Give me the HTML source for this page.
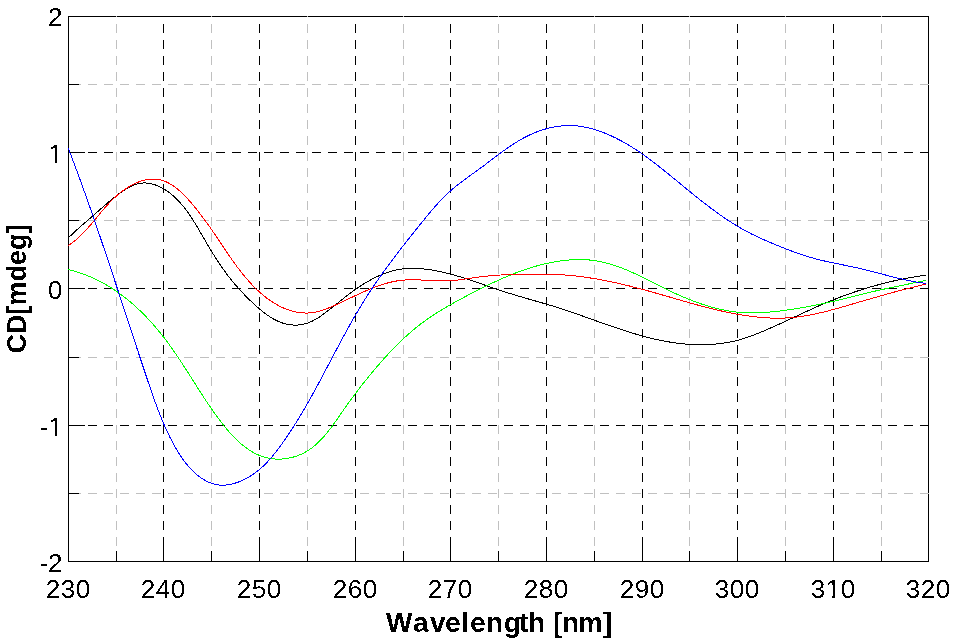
<!DOCTYPE html>
<html><head><meta charset="utf-8"><style>
html,body{margin:0;padding:0;background:#fff;width:954px;height:643px;overflow:hidden}
.lab{position:absolute;left:0;top:0;width:954px;height:643px;filter:url(#crisp)}
body{position:relative;font-family:"Liberation Sans",sans-serif;color:#000}
.xt{position:absolute;top:574px;width:120px;text-align:center;font-size:26px;line-height:30px;letter-spacing:0.55px;text-indent:0.55px}
.yt{position:absolute;left:0;width:63px;text-align:right;font-size:26px;line-height:30px;letter-spacing:0.55px}
.xl{position:absolute;left:0;top:606px;width:954px;height:34px;font-weight:bold;font-size:28px;line-height:34px;white-space:pre}
.xl span{position:absolute;top:0}
.yl{position:absolute;left:-183px;top:272px;width:400px;text-align:center;font-weight:bold;font-size:27px;line-height:34px;transform:rotate(-90deg)}
</style></head><body>
<svg width="954" height="643" viewBox="0 0 954 643" shape-rendering="crispEdges" style="position:absolute;left:0;top:0"><rect x="68.5" y="16.5" width="860" height="545" fill="none" stroke="#000" stroke-width="1"/><g fill="#c0c0c0"><rect x="72" y="84" width="9" height="1"/><rect x="88" y="84" width="9" height="1"/><rect x="104" y="84" width="9" height="1"/><rect x="120" y="84" width="9" height="1"/><rect x="136" y="84" width="9" height="1"/><rect x="152" y="84" width="9" height="1"/><rect x="168" y="84" width="9" height="1"/><rect x="184" y="84" width="9" height="1"/><rect x="200" y="84" width="9" height="1"/><rect x="216" y="84" width="9" height="1"/><rect x="232" y="84" width="9" height="1"/><rect x="248" y="84" width="9" height="1"/><rect x="264" y="84" width="9" height="1"/><rect x="280" y="84" width="9" height="1"/><rect x="296" y="84" width="9" height="1"/><rect x="312" y="84" width="9" height="1"/><rect x="328" y="84" width="9" height="1"/><rect x="344" y="84" width="9" height="1"/><rect x="360" y="84" width="9" height="1"/><rect x="376" y="84" width="9" height="1"/><rect x="392" y="84" width="9" height="1"/><rect x="408" y="84" width="9" height="1"/><rect x="424" y="84" width="9" height="1"/><rect x="440" y="84" width="9" height="1"/><rect x="456" y="84" width="9" height="1"/><rect x="472" y="84" width="9" height="1"/><rect x="488" y="84" width="9" height="1"/><rect x="504" y="84" width="9" height="1"/><rect x="520" y="84" width="9" height="1"/><rect x="536" y="84" width="9" height="1"/><rect x="552" y="84" width="9" height="1"/><rect x="568" y="84" width="9" height="1"/><rect x="584" y="84" width="9" height="1"/><rect x="600" y="84" width="9" height="1"/><rect x="616" y="84" width="9" height="1"/><rect x="632" y="84" width="9" height="1"/><rect x="648" y="84" width="9" height="1"/><rect x="664" y="84" width="9" height="1"/><rect x="680" y="84" width="9" height="1"/><rect x="696" y="84" width="9" height="1"/><rect x="712" y="84" width="9" height="1"/><rect x="728" y="84" width="9" height="1"/><rect x="744" y="84" width="9" height="1"/><rect x="760" y="84" width="9" height="1"/><rect x="776" y="84" width="9" height="1"/><rect x="792" y="84" width="9" height="1"/><rect x="808" y="84" width="9" height="1"/><rect x="824" y="84" width="9" height="1"/><rect x="840" y="84" width="9" height="1"/><rect x="856" y="84" width="9" height="1"/><rect x="872" y="84" width="9" height="1"/><rect x="888" y="84" width="9" height="1"/><rect x="904" y="84" width="9" height="1"/><rect x="920" y="84" width="9" height="1"/></g><g fill="#c0c0c0"><rect x="72" y="220" width="9" height="1"/><rect x="88" y="220" width="9" height="1"/><rect x="104" y="220" width="9" height="1"/><rect x="120" y="220" width="9" height="1"/><rect x="136" y="220" width="9" height="1"/><rect x="152" y="220" width="9" height="1"/><rect x="168" y="220" width="9" height="1"/><rect x="184" y="220" width="9" height="1"/><rect x="200" y="220" width="9" height="1"/><rect x="216" y="220" width="9" height="1"/><rect x="232" y="220" width="9" height="1"/><rect x="248" y="220" width="9" height="1"/><rect x="264" y="220" width="9" height="1"/><rect x="280" y="220" width="9" height="1"/><rect x="296" y="220" width="9" height="1"/><rect x="312" y="220" width="9" height="1"/><rect x="328" y="220" width="9" height="1"/><rect x="344" y="220" width="9" height="1"/><rect x="360" y="220" width="9" height="1"/><rect x="376" y="220" width="9" height="1"/><rect x="392" y="220" width="9" height="1"/><rect x="408" y="220" width="9" height="1"/><rect x="424" y="220" width="9" height="1"/><rect x="440" y="220" width="9" height="1"/><rect x="456" y="220" width="9" height="1"/><rect x="472" y="220" width="9" height="1"/><rect x="488" y="220" width="9" height="1"/><rect x="504" y="220" width="9" height="1"/><rect x="520" y="220" width="9" height="1"/><rect x="536" y="220" width="9" height="1"/><rect x="552" y="220" width="9" height="1"/><rect x="568" y="220" width="9" height="1"/><rect x="584" y="220" width="9" height="1"/><rect x="600" y="220" width="9" height="1"/><rect x="616" y="220" width="9" height="1"/><rect x="632" y="220" width="9" height="1"/><rect x="648" y="220" width="9" height="1"/><rect x="664" y="220" width="9" height="1"/><rect x="680" y="220" width="9" height="1"/><rect x="696" y="220" width="9" height="1"/><rect x="712" y="220" width="9" height="1"/><rect x="728" y="220" width="9" height="1"/><rect x="744" y="220" width="9" height="1"/><rect x="760" y="220" width="9" height="1"/><rect x="776" y="220" width="9" height="1"/><rect x="792" y="220" width="9" height="1"/><rect x="808" y="220" width="9" height="1"/><rect x="824" y="220" width="9" height="1"/><rect x="840" y="220" width="9" height="1"/><rect x="856" y="220" width="9" height="1"/><rect x="872" y="220" width="9" height="1"/><rect x="888" y="220" width="9" height="1"/><rect x="904" y="220" width="9" height="1"/><rect x="920" y="220" width="9" height="1"/></g><g fill="#c0c0c0"><rect x="72" y="357" width="9" height="1"/><rect x="88" y="357" width="9" height="1"/><rect x="104" y="357" width="9" height="1"/><rect x="120" y="357" width="9" height="1"/><rect x="136" y="357" width="9" height="1"/><rect x="152" y="357" width="9" height="1"/><rect x="168" y="357" width="9" height="1"/><rect x="184" y="357" width="9" height="1"/><rect x="200" y="357" width="9" height="1"/><rect x="216" y="357" width="9" height="1"/><rect x="232" y="357" width="9" height="1"/><rect x="248" y="357" width="9" height="1"/><rect x="264" y="357" width="9" height="1"/><rect x="280" y="357" width="9" height="1"/><rect x="296" y="357" width="9" height="1"/><rect x="312" y="357" width="9" height="1"/><rect x="328" y="357" width="9" height="1"/><rect x="344" y="357" width="9" height="1"/><rect x="360" y="357" width="9" height="1"/><rect x="376" y="357" width="9" height="1"/><rect x="392" y="357" width="9" height="1"/><rect x="408" y="357" width="9" height="1"/><rect x="424" y="357" width="9" height="1"/><rect x="440" y="357" width="9" height="1"/><rect x="456" y="357" width="9" height="1"/><rect x="472" y="357" width="9" height="1"/><rect x="488" y="357" width="9" height="1"/><rect x="504" y="357" width="9" height="1"/><rect x="520" y="357" width="9" height="1"/><rect x="536" y="357" width="9" height="1"/><rect x="552" y="357" width="9" height="1"/><rect x="568" y="357" width="9" height="1"/><rect x="584" y="357" width="9" height="1"/><rect x="600" y="357" width="9" height="1"/><rect x="616" y="357" width="9" height="1"/><rect x="632" y="357" width="9" height="1"/><rect x="648" y="357" width="9" height="1"/><rect x="664" y="357" width="9" height="1"/><rect x="680" y="357" width="9" height="1"/><rect x="696" y="357" width="9" height="1"/><rect x="712" y="357" width="9" height="1"/><rect x="728" y="357" width="9" height="1"/><rect x="744" y="357" width="9" height="1"/><rect x="760" y="357" width="9" height="1"/><rect x="776" y="357" width="9" height="1"/><rect x="792" y="357" width="9" height="1"/><rect x="808" y="357" width="9" height="1"/><rect x="824" y="357" width="9" height="1"/><rect x="840" y="357" width="9" height="1"/><rect x="856" y="357" width="9" height="1"/><rect x="872" y="357" width="9" height="1"/><rect x="888" y="357" width="9" height="1"/><rect x="904" y="357" width="9" height="1"/><rect x="920" y="357" width="9" height="1"/></g><g fill="#c0c0c0"><rect x="72" y="493" width="9" height="1"/><rect x="88" y="493" width="9" height="1"/><rect x="104" y="493" width="9" height="1"/><rect x="120" y="493" width="9" height="1"/><rect x="136" y="493" width="9" height="1"/><rect x="152" y="493" width="9" height="1"/><rect x="168" y="493" width="9" height="1"/><rect x="184" y="493" width="9" height="1"/><rect x="200" y="493" width="9" height="1"/><rect x="216" y="493" width="9" height="1"/><rect x="232" y="493" width="9" height="1"/><rect x="248" y="493" width="9" height="1"/><rect x="264" y="493" width="9" height="1"/><rect x="280" y="493" width="9" height="1"/><rect x="296" y="493" width="9" height="1"/><rect x="312" y="493" width="9" height="1"/><rect x="328" y="493" width="9" height="1"/><rect x="344" y="493" width="9" height="1"/><rect x="360" y="493" width="9" height="1"/><rect x="376" y="493" width="9" height="1"/><rect x="392" y="493" width="9" height="1"/><rect x="408" y="493" width="9" height="1"/><rect x="424" y="493" width="9" height="1"/><rect x="440" y="493" width="9" height="1"/><rect x="456" y="493" width="9" height="1"/><rect x="472" y="493" width="9" height="1"/><rect x="488" y="493" width="9" height="1"/><rect x="504" y="493" width="9" height="1"/><rect x="520" y="493" width="9" height="1"/><rect x="536" y="493" width="9" height="1"/><rect x="552" y="493" width="9" height="1"/><rect x="568" y="493" width="9" height="1"/><rect x="584" y="493" width="9" height="1"/><rect x="600" y="493" width="9" height="1"/><rect x="616" y="493" width="9" height="1"/><rect x="632" y="493" width="9" height="1"/><rect x="648" y="493" width="9" height="1"/><rect x="664" y="493" width="9" height="1"/><rect x="680" y="493" width="9" height="1"/><rect x="696" y="493" width="9" height="1"/><rect x="712" y="493" width="9" height="1"/><rect x="728" y="493" width="9" height="1"/><rect x="744" y="493" width="9" height="1"/><rect x="760" y="493" width="9" height="1"/><rect x="776" y="493" width="9" height="1"/><rect x="792" y="493" width="9" height="1"/><rect x="808" y="493" width="9" height="1"/><rect x="824" y="493" width="9" height="1"/><rect x="840" y="493" width="9" height="1"/><rect x="856" y="493" width="9" height="1"/><rect x="872" y="493" width="9" height="1"/><rect x="888" y="493" width="9" height="1"/><rect x="904" y="493" width="9" height="1"/><rect x="920" y="493" width="9" height="1"/></g><g fill="#000"><rect x="72" y="152" width="9" height="1"/><rect x="88" y="152" width="9" height="1"/><rect x="104" y="152" width="9" height="1"/><rect x="120" y="152" width="9" height="1"/><rect x="136" y="152" width="9" height="1"/><rect x="152" y="152" width="9" height="1"/><rect x="168" y="152" width="9" height="1"/><rect x="184" y="152" width="9" height="1"/><rect x="200" y="152" width="9" height="1"/><rect x="216" y="152" width="9" height="1"/><rect x="232" y="152" width="9" height="1"/><rect x="248" y="152" width="9" height="1"/><rect x="264" y="152" width="9" height="1"/><rect x="280" y="152" width="9" height="1"/><rect x="296" y="152" width="9" height="1"/><rect x="312" y="152" width="9" height="1"/><rect x="328" y="152" width="9" height="1"/><rect x="344" y="152" width="9" height="1"/><rect x="360" y="152" width="9" height="1"/><rect x="376" y="152" width="9" height="1"/><rect x="392" y="152" width="9" height="1"/><rect x="408" y="152" width="9" height="1"/><rect x="424" y="152" width="9" height="1"/><rect x="440" y="152" width="9" height="1"/><rect x="456" y="152" width="9" height="1"/><rect x="472" y="152" width="9" height="1"/><rect x="488" y="152" width="9" height="1"/><rect x="504" y="152" width="9" height="1"/><rect x="520" y="152" width="9" height="1"/><rect x="536" y="152" width="9" height="1"/><rect x="552" y="152" width="9" height="1"/><rect x="568" y="152" width="9" height="1"/><rect x="584" y="152" width="9" height="1"/><rect x="600" y="152" width="9" height="1"/><rect x="616" y="152" width="9" height="1"/><rect x="632" y="152" width="9" height="1"/><rect x="648" y="152" width="9" height="1"/><rect x="664" y="152" width="9" height="1"/><rect x="680" y="152" width="9" height="1"/><rect x="696" y="152" width="9" height="1"/><rect x="712" y="152" width="9" height="1"/><rect x="728" y="152" width="9" height="1"/><rect x="744" y="152" width="9" height="1"/><rect x="760" y="152" width="9" height="1"/><rect x="776" y="152" width="9" height="1"/><rect x="792" y="152" width="9" height="1"/><rect x="808" y="152" width="9" height="1"/><rect x="824" y="152" width="9" height="1"/><rect x="840" y="152" width="9" height="1"/><rect x="856" y="152" width="9" height="1"/><rect x="872" y="152" width="9" height="1"/><rect x="888" y="152" width="9" height="1"/><rect x="904" y="152" width="9" height="1"/><rect x="920" y="152" width="9" height="1"/></g><g fill="#000"><rect x="72" y="288" width="9" height="1"/><rect x="88" y="288" width="9" height="1"/><rect x="104" y="288" width="9" height="1"/><rect x="120" y="288" width="9" height="1"/><rect x="136" y="288" width="9" height="1"/><rect x="152" y="288" width="9" height="1"/><rect x="168" y="288" width="9" height="1"/><rect x="184" y="288" width="9" height="1"/><rect x="200" y="288" width="9" height="1"/><rect x="216" y="288" width="9" height="1"/><rect x="232" y="288" width="9" height="1"/><rect x="248" y="288" width="9" height="1"/><rect x="264" y="288" width="9" height="1"/><rect x="280" y="288" width="9" height="1"/><rect x="296" y="288" width="9" height="1"/><rect x="312" y="288" width="9" height="1"/><rect x="328" y="288" width="9" height="1"/><rect x="344" y="288" width="9" height="1"/><rect x="360" y="288" width="9" height="1"/><rect x="376" y="288" width="9" height="1"/><rect x="392" y="288" width="9" height="1"/><rect x="408" y="288" width="9" height="1"/><rect x="424" y="288" width="9" height="1"/><rect x="440" y="288" width="9" height="1"/><rect x="456" y="288" width="9" height="1"/><rect x="472" y="288" width="9" height="1"/><rect x="488" y="288" width="9" height="1"/><rect x="504" y="288" width="9" height="1"/><rect x="520" y="288" width="9" height="1"/><rect x="536" y="288" width="9" height="1"/><rect x="552" y="288" width="9" height="1"/><rect x="568" y="288" width="9" height="1"/><rect x="584" y="288" width="9" height="1"/><rect x="600" y="288" width="9" height="1"/><rect x="616" y="288" width="9" height="1"/><rect x="632" y="288" width="9" height="1"/><rect x="648" y="288" width="9" height="1"/><rect x="664" y="288" width="9" height="1"/><rect x="680" y="288" width="9" height="1"/><rect x="696" y="288" width="9" height="1"/><rect x="712" y="288" width="9" height="1"/><rect x="728" y="288" width="9" height="1"/><rect x="744" y="288" width="9" height="1"/><rect x="760" y="288" width="9" height="1"/><rect x="776" y="288" width="9" height="1"/><rect x="792" y="288" width="9" height="1"/><rect x="808" y="288" width="9" height="1"/><rect x="824" y="288" width="9" height="1"/><rect x="840" y="288" width="9" height="1"/><rect x="856" y="288" width="9" height="1"/><rect x="872" y="288" width="9" height="1"/><rect x="888" y="288" width="9" height="1"/><rect x="904" y="288" width="9" height="1"/><rect x="920" y="288" width="9" height="1"/></g><g fill="#000"><rect x="72" y="425" width="9" height="1"/><rect x="88" y="425" width="9" height="1"/><rect x="104" y="425" width="9" height="1"/><rect x="120" y="425" width="9" height="1"/><rect x="136" y="425" width="9" height="1"/><rect x="152" y="425" width="9" height="1"/><rect x="168" y="425" width="9" height="1"/><rect x="184" y="425" width="9" height="1"/><rect x="200" y="425" width="9" height="1"/><rect x="216" y="425" width="9" height="1"/><rect x="232" y="425" width="9" height="1"/><rect x="248" y="425" width="9" height="1"/><rect x="264" y="425" width="9" height="1"/><rect x="280" y="425" width="9" height="1"/><rect x="296" y="425" width="9" height="1"/><rect x="312" y="425" width="9" height="1"/><rect x="328" y="425" width="9" height="1"/><rect x="344" y="425" width="9" height="1"/><rect x="360" y="425" width="9" height="1"/><rect x="376" y="425" width="9" height="1"/><rect x="392" y="425" width="9" height="1"/><rect x="408" y="425" width="9" height="1"/><rect x="424" y="425" width="9" height="1"/><rect x="440" y="425" width="9" height="1"/><rect x="456" y="425" width="9" height="1"/><rect x="472" y="425" width="9" height="1"/><rect x="488" y="425" width="9" height="1"/><rect x="504" y="425" width="9" height="1"/><rect x="520" y="425" width="9" height="1"/><rect x="536" y="425" width="9" height="1"/><rect x="552" y="425" width="9" height="1"/><rect x="568" y="425" width="9" height="1"/><rect x="584" y="425" width="9" height="1"/><rect x="600" y="425" width="9" height="1"/><rect x="616" y="425" width="9" height="1"/><rect x="632" y="425" width="9" height="1"/><rect x="648" y="425" width="9" height="1"/><rect x="664" y="425" width="9" height="1"/><rect x="680" y="425" width="9" height="1"/><rect x="696" y="425" width="9" height="1"/><rect x="712" y="425" width="9" height="1"/><rect x="728" y="425" width="9" height="1"/><rect x="744" y="425" width="9" height="1"/><rect x="760" y="425" width="9" height="1"/><rect x="776" y="425" width="9" height="1"/><rect x="792" y="425" width="9" height="1"/><rect x="808" y="425" width="9" height="1"/><rect x="824" y="425" width="9" height="1"/><rect x="840" y="425" width="9" height="1"/><rect x="856" y="425" width="9" height="1"/><rect x="872" y="425" width="9" height="1"/><rect x="888" y="425" width="9" height="1"/><rect x="904" y="425" width="9" height="1"/><rect x="920" y="425" width="9" height="1"/></g><g fill="#c0c0c0"><rect x="116" y="16" width="1" height="1"/><rect x="116" y="24" width="1" height="9"/><rect x="116" y="40" width="1" height="9"/><rect x="116" y="56" width="1" height="9"/><rect x="116" y="72" width="1" height="9"/><rect x="116" y="88" width="1" height="9"/><rect x="116" y="104" width="1" height="9"/><rect x="116" y="120" width="1" height="9"/><rect x="116" y="136" width="1" height="9"/><rect x="116" y="152" width="1" height="9"/><rect x="116" y="168" width="1" height="9"/><rect x="116" y="184" width="1" height="9"/><rect x="116" y="201" width="1" height="9"/><rect x="116" y="217" width="1" height="9"/><rect x="116" y="233" width="1" height="9"/><rect x="116" y="249" width="1" height="9"/><rect x="116" y="265" width="1" height="9"/><rect x="116" y="281" width="1" height="9"/><rect x="116" y="297" width="1" height="9"/><rect x="116" y="313" width="1" height="9"/><rect x="116" y="329" width="1" height="9"/><rect x="116" y="345" width="1" height="9"/><rect x="116" y="361" width="1" height="9"/><rect x="116" y="377" width="1" height="9"/><rect x="116" y="393" width="1" height="9"/><rect x="116" y="409" width="1" height="9"/><rect x="116" y="425" width="1" height="9"/><rect x="116" y="441" width="1" height="9"/><rect x="116" y="457" width="1" height="9"/><rect x="116" y="473" width="1" height="9"/><rect x="116" y="489" width="1" height="9"/><rect x="116" y="505" width="1" height="9"/><rect x="116" y="521" width="1" height="9"/><rect x="116" y="537" width="1" height="9"/><rect x="116" y="553" width="1" height="8"/></g><g fill="#c0c0c0"><rect x="211" y="16" width="1" height="1"/><rect x="211" y="24" width="1" height="9"/><rect x="211" y="40" width="1" height="9"/><rect x="211" y="56" width="1" height="9"/><rect x="211" y="72" width="1" height="9"/><rect x="211" y="88" width="1" height="9"/><rect x="211" y="104" width="1" height="9"/><rect x="211" y="120" width="1" height="9"/><rect x="211" y="136" width="1" height="9"/><rect x="211" y="152" width="1" height="9"/><rect x="211" y="168" width="1" height="9"/><rect x="211" y="184" width="1" height="9"/><rect x="211" y="201" width="1" height="9"/><rect x="211" y="217" width="1" height="9"/><rect x="211" y="233" width="1" height="9"/><rect x="211" y="249" width="1" height="9"/><rect x="211" y="265" width="1" height="9"/><rect x="211" y="281" width="1" height="9"/><rect x="211" y="297" width="1" height="9"/><rect x="211" y="313" width="1" height="9"/><rect x="211" y="329" width="1" height="9"/><rect x="211" y="345" width="1" height="9"/><rect x="211" y="361" width="1" height="9"/><rect x="211" y="377" width="1" height="9"/><rect x="211" y="393" width="1" height="9"/><rect x="211" y="409" width="1" height="9"/><rect x="211" y="425" width="1" height="9"/><rect x="211" y="441" width="1" height="9"/><rect x="211" y="457" width="1" height="9"/><rect x="211" y="473" width="1" height="9"/><rect x="211" y="489" width="1" height="9"/><rect x="211" y="505" width="1" height="9"/><rect x="211" y="521" width="1" height="9"/><rect x="211" y="537" width="1" height="9"/><rect x="211" y="553" width="1" height="8"/></g><g fill="#c0c0c0"><rect x="307" y="16" width="1" height="1"/><rect x="307" y="24" width="1" height="9"/><rect x="307" y="40" width="1" height="9"/><rect x="307" y="56" width="1" height="9"/><rect x="307" y="72" width="1" height="9"/><rect x="307" y="88" width="1" height="9"/><rect x="307" y="104" width="1" height="9"/><rect x="307" y="120" width="1" height="9"/><rect x="307" y="136" width="1" height="9"/><rect x="307" y="152" width="1" height="9"/><rect x="307" y="168" width="1" height="9"/><rect x="307" y="184" width="1" height="9"/><rect x="307" y="201" width="1" height="9"/><rect x="307" y="217" width="1" height="9"/><rect x="307" y="233" width="1" height="9"/><rect x="307" y="249" width="1" height="9"/><rect x="307" y="265" width="1" height="9"/><rect x="307" y="281" width="1" height="9"/><rect x="307" y="297" width="1" height="9"/><rect x="307" y="313" width="1" height="9"/><rect x="307" y="329" width="1" height="9"/><rect x="307" y="345" width="1" height="9"/><rect x="307" y="361" width="1" height="9"/><rect x="307" y="377" width="1" height="9"/><rect x="307" y="393" width="1" height="9"/><rect x="307" y="409" width="1" height="9"/><rect x="307" y="425" width="1" height="9"/><rect x="307" y="441" width="1" height="9"/><rect x="307" y="457" width="1" height="9"/><rect x="307" y="473" width="1" height="9"/><rect x="307" y="489" width="1" height="9"/><rect x="307" y="505" width="1" height="9"/><rect x="307" y="521" width="1" height="9"/><rect x="307" y="537" width="1" height="9"/><rect x="307" y="553" width="1" height="8"/></g><g fill="#c0c0c0"><rect x="403" y="16" width="1" height="1"/><rect x="403" y="24" width="1" height="9"/><rect x="403" y="40" width="1" height="9"/><rect x="403" y="56" width="1" height="9"/><rect x="403" y="72" width="1" height="9"/><rect x="403" y="88" width="1" height="9"/><rect x="403" y="104" width="1" height="9"/><rect x="403" y="120" width="1" height="9"/><rect x="403" y="136" width="1" height="9"/><rect x="403" y="152" width="1" height="9"/><rect x="403" y="168" width="1" height="9"/><rect x="403" y="184" width="1" height="9"/><rect x="403" y="201" width="1" height="9"/><rect x="403" y="217" width="1" height="9"/><rect x="403" y="233" width="1" height="9"/><rect x="403" y="249" width="1" height="9"/><rect x="403" y="265" width="1" height="9"/><rect x="403" y="281" width="1" height="9"/><rect x="403" y="297" width="1" height="9"/><rect x="403" y="313" width="1" height="9"/><rect x="403" y="329" width="1" height="9"/><rect x="403" y="345" width="1" height="9"/><rect x="403" y="361" width="1" height="9"/><rect x="403" y="377" width="1" height="9"/><rect x="403" y="393" width="1" height="9"/><rect x="403" y="409" width="1" height="9"/><rect x="403" y="425" width="1" height="9"/><rect x="403" y="441" width="1" height="9"/><rect x="403" y="457" width="1" height="9"/><rect x="403" y="473" width="1" height="9"/><rect x="403" y="489" width="1" height="9"/><rect x="403" y="505" width="1" height="9"/><rect x="403" y="521" width="1" height="9"/><rect x="403" y="537" width="1" height="9"/><rect x="403" y="553" width="1" height="8"/></g><g fill="#c0c0c0"><rect x="498" y="16" width="1" height="1"/><rect x="498" y="24" width="1" height="9"/><rect x="498" y="40" width="1" height="9"/><rect x="498" y="56" width="1" height="9"/><rect x="498" y="72" width="1" height="9"/><rect x="498" y="88" width="1" height="9"/><rect x="498" y="104" width="1" height="9"/><rect x="498" y="120" width="1" height="9"/><rect x="498" y="136" width="1" height="9"/><rect x="498" y="152" width="1" height="9"/><rect x="498" y="168" width="1" height="9"/><rect x="498" y="184" width="1" height="9"/><rect x="498" y="201" width="1" height="9"/><rect x="498" y="217" width="1" height="9"/><rect x="498" y="233" width="1" height="9"/><rect x="498" y="249" width="1" height="9"/><rect x="498" y="265" width="1" height="9"/><rect x="498" y="281" width="1" height="9"/><rect x="498" y="297" width="1" height="9"/><rect x="498" y="313" width="1" height="9"/><rect x="498" y="329" width="1" height="9"/><rect x="498" y="345" width="1" height="9"/><rect x="498" y="361" width="1" height="9"/><rect x="498" y="377" width="1" height="9"/><rect x="498" y="393" width="1" height="9"/><rect x="498" y="409" width="1" height="9"/><rect x="498" y="425" width="1" height="9"/><rect x="498" y="441" width="1" height="9"/><rect x="498" y="457" width="1" height="9"/><rect x="498" y="473" width="1" height="9"/><rect x="498" y="489" width="1" height="9"/><rect x="498" y="505" width="1" height="9"/><rect x="498" y="521" width="1" height="9"/><rect x="498" y="537" width="1" height="9"/><rect x="498" y="553" width="1" height="8"/></g><g fill="#c0c0c0"><rect x="594" y="16" width="1" height="1"/><rect x="594" y="24" width="1" height="9"/><rect x="594" y="40" width="1" height="9"/><rect x="594" y="56" width="1" height="9"/><rect x="594" y="72" width="1" height="9"/><rect x="594" y="88" width="1" height="9"/><rect x="594" y="104" width="1" height="9"/><rect x="594" y="120" width="1" height="9"/><rect x="594" y="136" width="1" height="9"/><rect x="594" y="152" width="1" height="9"/><rect x="594" y="168" width="1" height="9"/><rect x="594" y="184" width="1" height="9"/><rect x="594" y="201" width="1" height="9"/><rect x="594" y="217" width="1" height="9"/><rect x="594" y="233" width="1" height="9"/><rect x="594" y="249" width="1" height="9"/><rect x="594" y="265" width="1" height="9"/><rect x="594" y="281" width="1" height="9"/><rect x="594" y="297" width="1" height="9"/><rect x="594" y="313" width="1" height="9"/><rect x="594" y="329" width="1" height="9"/><rect x="594" y="345" width="1" height="9"/><rect x="594" y="361" width="1" height="9"/><rect x="594" y="377" width="1" height="9"/><rect x="594" y="393" width="1" height="9"/><rect x="594" y="409" width="1" height="9"/><rect x="594" y="425" width="1" height="9"/><rect x="594" y="441" width="1" height="9"/><rect x="594" y="457" width="1" height="9"/><rect x="594" y="473" width="1" height="9"/><rect x="594" y="489" width="1" height="9"/><rect x="594" y="505" width="1" height="9"/><rect x="594" y="521" width="1" height="9"/><rect x="594" y="537" width="1" height="9"/><rect x="594" y="553" width="1" height="8"/></g><g fill="#c0c0c0"><rect x="689" y="16" width="1" height="1"/><rect x="689" y="24" width="1" height="9"/><rect x="689" y="40" width="1" height="9"/><rect x="689" y="56" width="1" height="9"/><rect x="689" y="72" width="1" height="9"/><rect x="689" y="88" width="1" height="9"/><rect x="689" y="104" width="1" height="9"/><rect x="689" y="120" width="1" height="9"/><rect x="689" y="136" width="1" height="9"/><rect x="689" y="152" width="1" height="9"/><rect x="689" y="168" width="1" height="9"/><rect x="689" y="184" width="1" height="9"/><rect x="689" y="201" width="1" height="9"/><rect x="689" y="217" width="1" height="9"/><rect x="689" y="233" width="1" height="9"/><rect x="689" y="249" width="1" height="9"/><rect x="689" y="265" width="1" height="9"/><rect x="689" y="281" width="1" height="9"/><rect x="689" y="297" width="1" height="9"/><rect x="689" y="313" width="1" height="9"/><rect x="689" y="329" width="1" height="9"/><rect x="689" y="345" width="1" height="9"/><rect x="689" y="361" width="1" height="9"/><rect x="689" y="377" width="1" height="9"/><rect x="689" y="393" width="1" height="9"/><rect x="689" y="409" width="1" height="9"/><rect x="689" y="425" width="1" height="9"/><rect x="689" y="441" width="1" height="9"/><rect x="689" y="457" width="1" height="9"/><rect x="689" y="473" width="1" height="9"/><rect x="689" y="489" width="1" height="9"/><rect x="689" y="505" width="1" height="9"/><rect x="689" y="521" width="1" height="9"/><rect x="689" y="537" width="1" height="9"/><rect x="689" y="553" width="1" height="8"/></g><g fill="#c0c0c0"><rect x="785" y="16" width="1" height="1"/><rect x="785" y="24" width="1" height="9"/><rect x="785" y="40" width="1" height="9"/><rect x="785" y="56" width="1" height="9"/><rect x="785" y="72" width="1" height="9"/><rect x="785" y="88" width="1" height="9"/><rect x="785" y="104" width="1" height="9"/><rect x="785" y="120" width="1" height="9"/><rect x="785" y="136" width="1" height="9"/><rect x="785" y="152" width="1" height="9"/><rect x="785" y="168" width="1" height="9"/><rect x="785" y="184" width="1" height="9"/><rect x="785" y="201" width="1" height="9"/><rect x="785" y="217" width="1" height="9"/><rect x="785" y="233" width="1" height="9"/><rect x="785" y="249" width="1" height="9"/><rect x="785" y="265" width="1" height="9"/><rect x="785" y="281" width="1" height="9"/><rect x="785" y="297" width="1" height="9"/><rect x="785" y="313" width="1" height="9"/><rect x="785" y="329" width="1" height="9"/><rect x="785" y="345" width="1" height="9"/><rect x="785" y="361" width="1" height="9"/><rect x="785" y="377" width="1" height="9"/><rect x="785" y="393" width="1" height="9"/><rect x="785" y="409" width="1" height="9"/><rect x="785" y="425" width="1" height="9"/><rect x="785" y="441" width="1" height="9"/><rect x="785" y="457" width="1" height="9"/><rect x="785" y="473" width="1" height="9"/><rect x="785" y="489" width="1" height="9"/><rect x="785" y="505" width="1" height="9"/><rect x="785" y="521" width="1" height="9"/><rect x="785" y="537" width="1" height="9"/><rect x="785" y="553" width="1" height="8"/></g><g fill="#c0c0c0"><rect x="881" y="16" width="1" height="1"/><rect x="881" y="24" width="1" height="9"/><rect x="881" y="40" width="1" height="9"/><rect x="881" y="56" width="1" height="9"/><rect x="881" y="72" width="1" height="9"/><rect x="881" y="88" width="1" height="9"/><rect x="881" y="104" width="1" height="9"/><rect x="881" y="120" width="1" height="9"/><rect x="881" y="136" width="1" height="9"/><rect x="881" y="152" width="1" height="9"/><rect x="881" y="168" width="1" height="9"/><rect x="881" y="184" width="1" height="9"/><rect x="881" y="201" width="1" height="9"/><rect x="881" y="217" width="1" height="9"/><rect x="881" y="233" width="1" height="9"/><rect x="881" y="249" width="1" height="9"/><rect x="881" y="265" width="1" height="9"/><rect x="881" y="281" width="1" height="9"/><rect x="881" y="297" width="1" height="9"/><rect x="881" y="313" width="1" height="9"/><rect x="881" y="329" width="1" height="9"/><rect x="881" y="345" width="1" height="9"/><rect x="881" y="361" width="1" height="9"/><rect x="881" y="377" width="1" height="9"/><rect x="881" y="393" width="1" height="9"/><rect x="881" y="409" width="1" height="9"/><rect x="881" y="425" width="1" height="9"/><rect x="881" y="441" width="1" height="9"/><rect x="881" y="457" width="1" height="9"/><rect x="881" y="473" width="1" height="9"/><rect x="881" y="489" width="1" height="9"/><rect x="881" y="505" width="1" height="9"/><rect x="881" y="521" width="1" height="9"/><rect x="881" y="537" width="1" height="9"/><rect x="881" y="553" width="1" height="8"/></g><g fill="#000"><rect x="163" y="16" width="1" height="1"/><rect x="163" y="24" width="1" height="9"/><rect x="163" y="40" width="1" height="9"/><rect x="163" y="56" width="1" height="9"/><rect x="163" y="72" width="1" height="9"/><rect x="163" y="88" width="1" height="9"/><rect x="163" y="104" width="1" height="9"/><rect x="163" y="120" width="1" height="9"/><rect x="163" y="136" width="1" height="9"/><rect x="163" y="152" width="1" height="9"/><rect x="163" y="168" width="1" height="9"/><rect x="163" y="184" width="1" height="9"/><rect x="163" y="201" width="1" height="9"/><rect x="163" y="217" width="1" height="9"/><rect x="163" y="233" width="1" height="9"/><rect x="163" y="249" width="1" height="9"/><rect x="163" y="265" width="1" height="9"/><rect x="163" y="281" width="1" height="9"/><rect x="163" y="297" width="1" height="9"/><rect x="163" y="313" width="1" height="9"/><rect x="163" y="329" width="1" height="9"/><rect x="163" y="345" width="1" height="9"/><rect x="163" y="361" width="1" height="9"/><rect x="163" y="377" width="1" height="9"/><rect x="163" y="393" width="1" height="9"/><rect x="163" y="409" width="1" height="9"/><rect x="163" y="425" width="1" height="9"/><rect x="163" y="441" width="1" height="9"/><rect x="163" y="457" width="1" height="9"/><rect x="163" y="473" width="1" height="9"/><rect x="163" y="489" width="1" height="9"/><rect x="163" y="505" width="1" height="9"/><rect x="163" y="521" width="1" height="9"/><rect x="163" y="537" width="1" height="9"/><rect x="163" y="553" width="1" height="8"/></g><g fill="#000"><rect x="259" y="16" width="1" height="1"/><rect x="259" y="24" width="1" height="9"/><rect x="259" y="40" width="1" height="9"/><rect x="259" y="56" width="1" height="9"/><rect x="259" y="72" width="1" height="9"/><rect x="259" y="88" width="1" height="9"/><rect x="259" y="104" width="1" height="9"/><rect x="259" y="120" width="1" height="9"/><rect x="259" y="136" width="1" height="9"/><rect x="259" y="152" width="1" height="9"/><rect x="259" y="168" width="1" height="9"/><rect x="259" y="184" width="1" height="9"/><rect x="259" y="201" width="1" height="9"/><rect x="259" y="217" width="1" height="9"/><rect x="259" y="233" width="1" height="9"/><rect x="259" y="249" width="1" height="9"/><rect x="259" y="265" width="1" height="9"/><rect x="259" y="281" width="1" height="9"/><rect x="259" y="297" width="1" height="9"/><rect x="259" y="313" width="1" height="9"/><rect x="259" y="329" width="1" height="9"/><rect x="259" y="345" width="1" height="9"/><rect x="259" y="361" width="1" height="9"/><rect x="259" y="377" width="1" height="9"/><rect x="259" y="393" width="1" height="9"/><rect x="259" y="409" width="1" height="9"/><rect x="259" y="425" width="1" height="9"/><rect x="259" y="441" width="1" height="9"/><rect x="259" y="457" width="1" height="9"/><rect x="259" y="473" width="1" height="9"/><rect x="259" y="489" width="1" height="9"/><rect x="259" y="505" width="1" height="9"/><rect x="259" y="521" width="1" height="9"/><rect x="259" y="537" width="1" height="9"/><rect x="259" y="553" width="1" height="8"/></g><g fill="#000"><rect x="355" y="16" width="1" height="1"/><rect x="355" y="24" width="1" height="9"/><rect x="355" y="40" width="1" height="9"/><rect x="355" y="56" width="1" height="9"/><rect x="355" y="72" width="1" height="9"/><rect x="355" y="88" width="1" height="9"/><rect x="355" y="104" width="1" height="9"/><rect x="355" y="120" width="1" height="9"/><rect x="355" y="136" width="1" height="9"/><rect x="355" y="152" width="1" height="9"/><rect x="355" y="168" width="1" height="9"/><rect x="355" y="184" width="1" height="9"/><rect x="355" y="201" width="1" height="9"/><rect x="355" y="217" width="1" height="9"/><rect x="355" y="233" width="1" height="9"/><rect x="355" y="249" width="1" height="9"/><rect x="355" y="265" width="1" height="9"/><rect x="355" y="281" width="1" height="9"/><rect x="355" y="297" width="1" height="9"/><rect x="355" y="313" width="1" height="9"/><rect x="355" y="329" width="1" height="9"/><rect x="355" y="345" width="1" height="9"/><rect x="355" y="361" width="1" height="9"/><rect x="355" y="377" width="1" height="9"/><rect x="355" y="393" width="1" height="9"/><rect x="355" y="409" width="1" height="9"/><rect x="355" y="425" width="1" height="9"/><rect x="355" y="441" width="1" height="9"/><rect x="355" y="457" width="1" height="9"/><rect x="355" y="473" width="1" height="9"/><rect x="355" y="489" width="1" height="9"/><rect x="355" y="505" width="1" height="9"/><rect x="355" y="521" width="1" height="9"/><rect x="355" y="537" width="1" height="9"/><rect x="355" y="553" width="1" height="8"/></g><g fill="#000"><rect x="450" y="16" width="1" height="1"/><rect x="450" y="24" width="1" height="9"/><rect x="450" y="40" width="1" height="9"/><rect x="450" y="56" width="1" height="9"/><rect x="450" y="72" width="1" height="9"/><rect x="450" y="88" width="1" height="9"/><rect x="450" y="104" width="1" height="9"/><rect x="450" y="120" width="1" height="9"/><rect x="450" y="136" width="1" height="9"/><rect x="450" y="152" width="1" height="9"/><rect x="450" y="168" width="1" height="9"/><rect x="450" y="184" width="1" height="9"/><rect x="450" y="201" width="1" height="9"/><rect x="450" y="217" width="1" height="9"/><rect x="450" y="233" width="1" height="9"/><rect x="450" y="249" width="1" height="9"/><rect x="450" y="265" width="1" height="9"/><rect x="450" y="281" width="1" height="9"/><rect x="450" y="297" width="1" height="9"/><rect x="450" y="313" width="1" height="9"/><rect x="450" y="329" width="1" height="9"/><rect x="450" y="345" width="1" height="9"/><rect x="450" y="361" width="1" height="9"/><rect x="450" y="377" width="1" height="9"/><rect x="450" y="393" width="1" height="9"/><rect x="450" y="409" width="1" height="9"/><rect x="450" y="425" width="1" height="9"/><rect x="450" y="441" width="1" height="9"/><rect x="450" y="457" width="1" height="9"/><rect x="450" y="473" width="1" height="9"/><rect x="450" y="489" width="1" height="9"/><rect x="450" y="505" width="1" height="9"/><rect x="450" y="521" width="1" height="9"/><rect x="450" y="537" width="1" height="9"/><rect x="450" y="553" width="1" height="8"/></g><g fill="#000"><rect x="546" y="16" width="1" height="1"/><rect x="546" y="24" width="1" height="9"/><rect x="546" y="40" width="1" height="9"/><rect x="546" y="56" width="1" height="9"/><rect x="546" y="72" width="1" height="9"/><rect x="546" y="88" width="1" height="9"/><rect x="546" y="104" width="1" height="9"/><rect x="546" y="120" width="1" height="9"/><rect x="546" y="136" width="1" height="9"/><rect x="546" y="152" width="1" height="9"/><rect x="546" y="168" width="1" height="9"/><rect x="546" y="184" width="1" height="9"/><rect x="546" y="201" width="1" height="9"/><rect x="546" y="217" width="1" height="9"/><rect x="546" y="233" width="1" height="9"/><rect x="546" y="249" width="1" height="9"/><rect x="546" y="265" width="1" height="9"/><rect x="546" y="281" width="1" height="9"/><rect x="546" y="297" width="1" height="9"/><rect x="546" y="313" width="1" height="9"/><rect x="546" y="329" width="1" height="9"/><rect x="546" y="345" width="1" height="9"/><rect x="546" y="361" width="1" height="9"/><rect x="546" y="377" width="1" height="9"/><rect x="546" y="393" width="1" height="9"/><rect x="546" y="409" width="1" height="9"/><rect x="546" y="425" width="1" height="9"/><rect x="546" y="441" width="1" height="9"/><rect x="546" y="457" width="1" height="9"/><rect x="546" y="473" width="1" height="9"/><rect x="546" y="489" width="1" height="9"/><rect x="546" y="505" width="1" height="9"/><rect x="546" y="521" width="1" height="9"/><rect x="546" y="537" width="1" height="9"/><rect x="546" y="553" width="1" height="8"/></g><g fill="#000"><rect x="642" y="16" width="1" height="1"/><rect x="642" y="24" width="1" height="9"/><rect x="642" y="40" width="1" height="9"/><rect x="642" y="56" width="1" height="9"/><rect x="642" y="72" width="1" height="9"/><rect x="642" y="88" width="1" height="9"/><rect x="642" y="104" width="1" height="9"/><rect x="642" y="120" width="1" height="9"/><rect x="642" y="136" width="1" height="9"/><rect x="642" y="152" width="1" height="9"/><rect x="642" y="168" width="1" height="9"/><rect x="642" y="184" width="1" height="9"/><rect x="642" y="201" width="1" height="9"/><rect x="642" y="217" width="1" height="9"/><rect x="642" y="233" width="1" height="9"/><rect x="642" y="249" width="1" height="9"/><rect x="642" y="265" width="1" height="9"/><rect x="642" y="281" width="1" height="9"/><rect x="642" y="297" width="1" height="9"/><rect x="642" y="313" width="1" height="9"/><rect x="642" y="329" width="1" height="9"/><rect x="642" y="345" width="1" height="9"/><rect x="642" y="361" width="1" height="9"/><rect x="642" y="377" width="1" height="9"/><rect x="642" y="393" width="1" height="9"/><rect x="642" y="409" width="1" height="9"/><rect x="642" y="425" width="1" height="9"/><rect x="642" y="441" width="1" height="9"/><rect x="642" y="457" width="1" height="9"/><rect x="642" y="473" width="1" height="9"/><rect x="642" y="489" width="1" height="9"/><rect x="642" y="505" width="1" height="9"/><rect x="642" y="521" width="1" height="9"/><rect x="642" y="537" width="1" height="9"/><rect x="642" y="553" width="1" height="8"/></g><g fill="#000"><rect x="737" y="16" width="1" height="1"/><rect x="737" y="24" width="1" height="9"/><rect x="737" y="40" width="1" height="9"/><rect x="737" y="56" width="1" height="9"/><rect x="737" y="72" width="1" height="9"/><rect x="737" y="88" width="1" height="9"/><rect x="737" y="104" width="1" height="9"/><rect x="737" y="120" width="1" height="9"/><rect x="737" y="136" width="1" height="9"/><rect x="737" y="152" width="1" height="9"/><rect x="737" y="168" width="1" height="9"/><rect x="737" y="184" width="1" height="9"/><rect x="737" y="201" width="1" height="9"/><rect x="737" y="217" width="1" height="9"/><rect x="737" y="233" width="1" height="9"/><rect x="737" y="249" width="1" height="9"/><rect x="737" y="265" width="1" height="9"/><rect x="737" y="281" width="1" height="9"/><rect x="737" y="297" width="1" height="9"/><rect x="737" y="313" width="1" height="9"/><rect x="737" y="329" width="1" height="9"/><rect x="737" y="345" width="1" height="9"/><rect x="737" y="361" width="1" height="9"/><rect x="737" y="377" width="1" height="9"/><rect x="737" y="393" width="1" height="9"/><rect x="737" y="409" width="1" height="9"/><rect x="737" y="425" width="1" height="9"/><rect x="737" y="441" width="1" height="9"/><rect x="737" y="457" width="1" height="9"/><rect x="737" y="473" width="1" height="9"/><rect x="737" y="489" width="1" height="9"/><rect x="737" y="505" width="1" height="9"/><rect x="737" y="521" width="1" height="9"/><rect x="737" y="537" width="1" height="9"/><rect x="737" y="553" width="1" height="8"/></g><g fill="#000"><rect x="833" y="16" width="1" height="1"/><rect x="833" y="24" width="1" height="9"/><rect x="833" y="40" width="1" height="9"/><rect x="833" y="56" width="1" height="9"/><rect x="833" y="72" width="1" height="9"/><rect x="833" y="88" width="1" height="9"/><rect x="833" y="104" width="1" height="9"/><rect x="833" y="120" width="1" height="9"/><rect x="833" y="136" width="1" height="9"/><rect x="833" y="152" width="1" height="9"/><rect x="833" y="168" width="1" height="9"/><rect x="833" y="184" width="1" height="9"/><rect x="833" y="201" width="1" height="9"/><rect x="833" y="217" width="1" height="9"/><rect x="833" y="233" width="1" height="9"/><rect x="833" y="249" width="1" height="9"/><rect x="833" y="265" width="1" height="9"/><rect x="833" y="281" width="1" height="9"/><rect x="833" y="297" width="1" height="9"/><rect x="833" y="313" width="1" height="9"/><rect x="833" y="329" width="1" height="9"/><rect x="833" y="345" width="1" height="9"/><rect x="833" y="361" width="1" height="9"/><rect x="833" y="377" width="1" height="9"/><rect x="833" y="393" width="1" height="9"/><rect x="833" y="409" width="1" height="9"/><rect x="833" y="425" width="1" height="9"/><rect x="833" y="441" width="1" height="9"/><rect x="833" y="457" width="1" height="9"/><rect x="833" y="473" width="1" height="9"/><rect x="833" y="489" width="1" height="9"/><rect x="833" y="505" width="1" height="9"/><rect x="833" y="521" width="1" height="9"/><rect x="833" y="537" width="1" height="9"/><rect x="833" y="553" width="1" height="8"/></g><g fill="#000"><rect x="69" y="152" width="16" height="1"/><rect x="69" y="288" width="16" height="1"/><rect x="69" y="425" width="16" height="1"/><rect x="69" y="84" width="10" height="1"/><rect x="69" y="220" width="10" height="1"/><rect x="69" y="357" width="10" height="1"/><rect x="69" y="493" width="10" height="1"/><rect x="163" y="545" width="1" height="16"/><rect x="259" y="545" width="1" height="16"/><rect x="355" y="545" width="1" height="16"/><rect x="450" y="545" width="1" height="16"/><rect x="546" y="545" width="1" height="16"/><rect x="642" y="545" width="1" height="16"/><rect x="737" y="545" width="1" height="16"/><rect x="833" y="545" width="1" height="16"/><rect x="116" y="551" width="1" height="10"/><rect x="211" y="551" width="1" height="10"/><rect x="307" y="551" width="1" height="10"/><rect x="403" y="551" width="1" height="10"/><rect x="498" y="551" width="1" height="10"/><rect x="594" y="551" width="1" height="10"/><rect x="689" y="551" width="1" height="10"/><rect x="785" y="551" width="1" height="10"/><rect x="881" y="551" width="1" height="10"/></g><g shape-rendering="crispEdges"><path d="M68.40,237.92 L69.10,237.21 L69.80,236.50 L70.51,235.79 L71.23,235.09 L71.95,234.40 L72.67,233.70 L73.39,233.01 L74.12,232.33 L74.86,231.64 L75.59,230.97 L76.33,230.29 L77.07,229.62 L77.81,228.95 L78.56,228.28 L79.31,227.62 L80.06,226.95 L80.81,226.29 L81.56,225.63 L82.32,224.98 L83.07,224.32 L83.83,223.67 L84.59,223.01 L85.35,222.36 L86.11,221.71 L86.87,221.06 L87.63,220.41 L88.39,219.76 L89.15,219.10 L89.91,218.45 L90.67,217.80 L91.42,217.15 L92.18,216.49 L92.94,215.84 L93.69,215.18 L94.45,214.52 L95.20,213.86 L95.95,213.20 L96.70,212.54 L97.45,211.87 L98.20,211.21 L98.94,210.54 L99.69,209.88 L100.44,209.21 L101.19,208.55 L101.94,207.88 L102.69,207.22 L103.44,206.56 L104.19,205.90 L104.94,205.24 L105.69,204.58 L106.45,203.92 L107.20,203.27 L107.96,202.61 L108.73,201.96 L109.49,201.32 L110.25,200.67 L111.02,200.03 L111.79,199.39 L112.57,198.76 L113.35,198.13 L114.13,197.50 L114.91,196.88 L115.70,196.26 L116.49,195.65 L117.28,195.04 L118.08,194.44 L118.89,193.84 L119.69,193.25 L120.51,192.67 L121.33,192.09 L122.15,191.52 L122.98,190.96 L123.82,190.42 L124.66,189.88 L125.51,189.35 L126.37,188.84 L127.24,188.34 L128.11,187.85 L128.99,187.38 L129.88,186.92 L130.78,186.48 L131.69,186.06 L132.61,185.66 L133.53,185.28 L134.47,184.92 L135.41,184.59 L136.37,184.28 L137.33,184.00 L138.29,183.75 L139.27,183.53 L140.25,183.34 L141.24,183.19 L142.24,183.07 L143.23,182.99 L144.23,182.95 L145.24,182.95 L146.24,182.99 L147.23,183.07 L148.23,183.18 L149.22,183.32 L150.20,183.50 L151.18,183.71 L152.15,183.95 L153.12,184.22 L154.08,184.51 L155.02,184.83 L155.97,185.17 L156.90,185.53 L157.82,185.92 L158.74,186.32 L159.64,186.74 L160.54,187.18 L161.43,187.64 L162.31,188.12 L163.19,188.61 L164.05,189.11 L164.90,189.64 L165.75,190.17 L166.59,190.72 L167.41,191.28 L168.23,191.86 L169.04,192.45 L169.84,193.05 L170.63,193.67 L171.41,194.30 L172.18,194.93 L172.94,195.58 L173.69,196.24 L174.43,196.92 L175.17,197.60 L175.89,198.29 L176.61,198.99 L177.31,199.70 L178.01,200.41 L178.70,201.14 L179.38,201.87 L180.05,202.61 L180.72,203.36 L181.37,204.12 L182.02,204.88 L182.66,205.65 L183.30,206.42 L183.92,207.21 L184.54,207.99 L185.15,208.78 L185.76,209.58 L186.36,210.38 L186.95,211.19 L187.54,212.00 L188.12,212.81 L188.70,213.63 L189.27,214.45 L189.83,215.28 L190.39,216.11 L190.95,216.94 L191.50,217.78 L192.04,218.62 L192.59,219.46 L193.13,220.30 L193.66,221.15 L194.19,221.99 L194.72,222.85 L195.24,223.70 L195.76,224.55 L196.28,225.41 L196.80,226.27 L197.31,227.12 L197.82,227.98 L198.33,228.85 L198.84,229.71 L199.35,230.57 L199.85,231.44 L200.36,232.30 L200.86,233.17 L201.36,234.03 L201.86,234.90 L202.36,235.76 L202.87,236.63 L203.37,237.50 L203.87,238.36 L204.37,239.23 L204.87,240.09 L205.38,240.96 L205.88,241.82 L206.39,242.69 L206.89,243.55 L207.40,244.41 L207.91,245.27 L208.42,246.14 L208.93,247.00 L209.45,247.85 L209.96,248.71 L210.48,249.57 L211.00,250.42 L211.52,251.28 L212.04,252.13 L212.57,252.98 L213.09,253.83 L213.62,254.68 L214.16,255.53 L214.69,256.38 L215.23,257.22 L215.76,258.07 L216.30,258.91 L216.85,259.75 L217.39,260.59 L217.94,261.43 L218.49,262.26 L219.05,263.10 L219.61,263.93 L220.17,264.76 L220.73,265.58 L221.29,266.41 L221.86,267.23 L222.44,268.05 L223.01,268.87 L223.59,269.69 L224.17,270.50 L224.76,271.31 L225.35,272.12 L225.94,272.93 L226.54,273.73 L227.14,274.53 L227.74,275.33 L228.35,276.13 L228.96,276.92 L229.57,277.71 L230.19,278.50 L230.81,279.28 L231.44,280.06 L232.07,280.84 L232.70,281.62 L233.34,282.39 L233.98,283.16 L234.62,283.92 L235.27,284.68 L235.92,285.44 L236.58,286.20 L237.24,286.95 L237.90,287.70 L238.57,288.45 L239.24,289.19 L239.91,289.93 L240.59,290.67 L241.27,291.41 L241.95,292.14 L242.64,292.87 L243.33,293.59 L244.02,294.31 L244.72,295.03 L245.41,295.75 L246.12,296.46 L246.82,297.17 L247.53,297.88 L248.24,298.58 L248.96,299.28 L249.67,299.98 L250.39,300.68 L251.12,301.37 L251.84,302.06 L252.57,302.74 L253.30,303.43 L254.04,304.11 L254.77,304.78 L255.51,305.46 L256.26,306.13 L257.00,306.79 L257.76,307.46 L258.51,308.11 L259.27,308.77 L260.03,309.41 L260.80,310.05 L261.57,310.69 L262.35,311.32 L263.14,311.94 L263.93,312.56 L264.72,313.16 L265.52,313.76 L266.33,314.35 L267.15,314.94 L267.97,315.51 L268.79,316.07 L269.63,316.62 L270.47,317.16 L271.32,317.69 L272.18,318.21 L273.04,318.71 L273.92,319.20 L274.80,319.67 L275.69,320.13 L276.58,320.58 L277.49,321.00 L278.40,321.41 L279.32,321.81 L280.25,322.18 L281.19,322.53 L282.13,322.86 L283.08,323.18 L284.04,323.47 L285.01,323.73 L285.98,323.98 L286.95,324.20 L287.93,324.39 L288.92,324.57 L289.91,324.72 L290.90,324.84 L291.90,324.94 L292.90,325.02 L293.90,325.07 L294.90,325.09 L295.90,325.09 L296.90,325.07 L297.90,325.02 L298.90,324.94 L299.89,324.84 L300.88,324.71 L301.87,324.55 L302.85,324.36 L303.83,324.15 L304.80,323.91 L305.77,323.65 L306.73,323.35 L307.67,323.03 L308.61,322.69 L309.54,322.32 L310.47,321.93 L311.38,321.52 L312.28,321.09 L313.18,320.65 L314.07,320.18 L314.94,319.70 L315.81,319.21 L316.68,318.70 L317.53,318.18 L318.38,317.64 L319.22,317.10 L320.05,316.55 L320.88,315.98 L321.70,315.41 L322.52,314.83 L323.33,314.25 L324.13,313.65 L324.94,313.05 L325.73,312.45 L326.53,311.84 L327.32,311.23 L328.11,310.62 L328.90,310.00 L329.68,309.38 L330.47,308.76 L331.25,308.14 L332.04,307.51 L332.82,306.89 L333.60,306.27 L334.38,305.64 L335.17,305.02 L335.95,304.39 L336.73,303.77 L337.51,303.14 L338.29,302.52 L339.08,301.90 L339.86,301.27 L340.65,300.65 L341.43,300.03 L342.22,299.41 L343.00,298.79 L343.79,298.17 L344.58,297.56 L345.37,296.94 L346.16,296.33 L346.95,295.72 L347.75,295.11 L348.54,294.51 L349.34,293.90 L350.14,293.30 L350.95,292.70 L351.75,292.11 L352.56,291.52 L353.37,290.93 L354.18,290.34 L354.99,289.76 L355.81,289.18 L356.63,288.61 L357.46,288.04 L358.28,287.48 L359.11,286.92 L359.94,286.36 L360.78,285.81 L361.62,285.27 L362.46,284.73 L363.31,284.19 L364.16,283.66 L365.01,283.14 L365.87,282.62 L366.73,282.11 L367.59,281.61 L368.46,281.11 L369.33,280.62 L370.21,280.13 L371.09,279.66 L371.97,279.19 L372.86,278.72 L373.75,278.27 L374.64,277.82 L375.54,277.38 L376.45,276.95 L377.35,276.52 L378.26,276.11 L379.18,275.70 L380.10,275.30 L381.02,274.91 L381.94,274.53 L382.87,274.16 L383.80,273.79 L384.74,273.44 L385.68,273.10 L386.62,272.76 L387.57,272.44 L388.52,272.13 L389.48,271.83 L390.43,271.53 L391.39,271.25 L392.36,270.98 L393.33,270.73 L394.30,270.48 L395.27,270.25 L396.24,270.03 L397.22,269.82 L398.21,269.62 L399.19,269.44 L400.18,269.27 L401.16,269.11 L402.15,268.97 L403.15,268.85 L404.14,268.73 L405.14,268.63 L406.14,268.55 L407.13,268.48 L408.13,268.42 L409.13,268.38 L410.13,268.35 L411.13,268.33 L412.13,268.32 L413.14,268.33 L414.14,268.34 L415.14,268.37 L416.14,268.40 L417.14,268.45 L418.14,268.50 L419.14,268.56 L420.13,268.63 L421.13,268.71 L422.13,268.80 L423.12,268.89 L424.12,268.99 L425.12,269.10 L426.11,269.22 L427.10,269.34 L428.09,269.47 L429.09,269.61 L430.08,269.75 L431.07,269.91 L432.05,270.06 L433.04,270.23 L434.03,270.40 L435.01,270.57 L436.00,270.75 L436.98,270.94 L437.96,271.14 L438.94,271.34 L439.92,271.54 L440.90,271.75 L441.88,271.97 L442.85,272.19 L443.83,272.41 L444.80,272.64 L445.78,272.88 L446.75,273.12 L447.72,273.36 L448.69,273.61 L449.66,273.86 L450.62,274.12 L451.59,274.38 L452.55,274.65 L453.52,274.92 L454.48,275.19 L455.44,275.46 L456.41,275.74 L457.37,276.03 L458.32,276.31 L459.28,276.60 L460.24,276.89 L461.20,277.19 L462.15,277.48 L463.11,277.78 L464.06,278.09 L465.01,278.39 L465.97,278.70 L466.92,279.01 L467.87,279.32 L468.82,279.63 L469.77,279.94 L470.72,280.26 L471.67,280.58 L472.62,280.90 L473.57,281.22 L474.51,281.54 L475.46,281.87 L476.41,282.19 L477.35,282.51 L478.30,282.84 L479.25,283.17 L480.19,283.50 L481.14,283.82 L482.08,284.15 L483.03,284.48 L483.97,284.81 L484.92,285.14 L485.86,285.47 L486.81,285.80 L487.75,286.13 L488.70,286.45 L489.65,286.78 L490.59,287.11 L491.54,287.44 L492.48,287.76 L493.43,288.09 L494.38,288.41 L495.32,288.74 L496.27,289.06 L497.22,289.38 L498.17,289.70 L499.12,290.02 L500.07,290.34 L501.02,290.65 L501.97,290.96 L502.92,291.28 L503.87,291.58 L504.82,291.89 L505.77,292.20 L506.73,292.50 L507.68,292.80 L508.64,293.10 L509.59,293.40 L510.55,293.69 L511.51,293.99 L512.46,294.28 L513.42,294.57 L514.38,294.86 L515.34,295.15 L516.30,295.43 L517.26,295.72 L518.22,296.00 L519.18,296.28 L520.14,296.56 L521.10,296.85 L522.06,297.13 L523.02,297.40 L523.98,297.68 L524.94,297.96 L525.90,298.24 L526.87,298.51 L527.83,298.79 L528.79,299.07 L529.75,299.34 L530.71,299.62 L531.68,299.89 L532.64,300.17 L533.60,300.44 L534.56,300.72 L535.53,300.99 L536.49,301.27 L537.45,301.55 L538.41,301.82 L539.37,302.10 L540.33,302.38 L541.30,302.66 L542.26,302.93 L543.22,303.21 L544.18,303.50 L545.14,303.78 L546.10,304.06 L547.06,304.34 L548.02,304.63 L548.98,304.92 L549.94,305.20 L550.89,305.49 L551.85,305.78 L552.81,306.08 L553.77,306.37 L554.72,306.67 L555.68,306.96 L556.63,307.26 L557.59,307.56 L558.54,307.87 L559.49,308.17 L560.45,308.48 L561.40,308.79 L562.35,309.10 L563.30,309.41 L564.25,309.72 L565.20,310.04 L566.15,310.36 L567.10,310.67 L568.05,310.99 L569.00,311.31 L569.94,311.64 L570.89,311.96 L571.84,312.28 L572.78,312.61 L573.73,312.93 L574.68,313.26 L575.62,313.59 L576.57,313.92 L577.51,314.25 L578.46,314.58 L579.40,314.91 L580.35,315.24 L581.29,315.57 L582.23,315.91 L583.18,316.24 L584.12,316.58 L585.06,316.91 L586.01,317.25 L586.95,317.58 L587.89,317.92 L588.83,318.25 L589.78,318.59 L590.72,318.92 L591.66,319.26 L592.61,319.60 L593.55,319.93 L594.49,320.27 L595.43,320.60 L596.38,320.94 L597.32,321.28 L598.26,321.61 L599.21,321.95 L600.15,322.28 L601.09,322.62 L602.04,322.95 L602.98,323.28 L603.92,323.61 L604.87,323.95 L605.81,324.28 L606.76,324.61 L607.70,324.94 L608.65,325.27 L609.59,325.60 L610.54,325.92 L611.48,326.25 L612.43,326.57 L613.38,326.90 L614.32,327.22 L615.27,327.54 L616.22,327.86 L617.17,328.18 L618.12,328.50 L619.07,328.82 L620.02,329.13 L620.97,329.44 L621.92,329.76 L622.87,330.07 L623.82,330.38 L624.78,330.68 L625.73,330.99 L626.68,331.29 L627.64,331.59 L628.59,331.89 L629.55,332.19 L630.50,332.49 L631.46,332.78 L632.42,333.07 L633.38,333.36 L634.33,333.65 L635.29,333.93 L636.25,334.21 L637.22,334.49 L638.18,334.77 L639.14,335.05 L640.10,335.32 L641.07,335.59 L642.03,335.85 L643.00,336.12 L643.96,336.38 L644.93,336.64 L645.90,336.89 L646.87,337.15 L647.83,337.39 L648.80,337.64 L649.78,337.88 L650.75,338.12 L651.72,338.36 L652.69,338.59 L653.67,338.82 L654.64,339.05 L655.62,339.27 L656.59,339.49 L657.57,339.71 L658.55,339.92 L659.53,340.13 L660.51,340.33 L661.49,340.53 L662.47,340.73 L663.45,340.92 L664.44,341.11 L665.42,341.29 L666.40,341.47 L667.39,341.65 L668.37,341.82 L669.36,341.99 L670.35,342.15 L671.34,342.31 L672.33,342.47 L673.32,342.61 L674.31,342.76 L675.30,342.90 L676.29,343.03 L677.28,343.17 L678.27,343.29 L679.27,343.41 L680.26,343.53 L681.26,343.64 L682.25,343.74 L683.25,343.84 L684.24,343.94 L685.24,344.03 L686.24,344.11 L687.24,344.19 L688.23,344.27 L689.23,344.34 L690.23,344.40 L691.23,344.46 L692.23,344.51 L693.23,344.56 L694.23,344.60 L695.23,344.63 L696.23,344.66 L697.23,344.68 L698.23,344.70 L699.23,344.71 L700.23,344.72 L701.23,344.72 L702.23,344.71 L703.23,344.70 L704.24,344.68 L705.24,344.66 L706.24,344.63 L707.24,344.59 L708.24,344.55 L709.24,344.50 L710.24,344.45 L711.23,344.39 L712.23,344.32 L713.23,344.25 L714.23,344.17 L715.23,344.08 L716.22,343.99 L717.22,343.89 L718.21,343.78 L719.21,343.67 L720.20,343.55 L721.19,343.42 L722.19,343.29 L723.18,343.15 L724.17,343.00 L725.16,342.85 L726.14,342.69 L727.13,342.52 L728.12,342.35 L729.10,342.17 L730.08,341.98 L731.07,341.78 L732.05,341.58 L733.02,341.37 L734.00,341.15 L734.98,340.92 L735.95,340.69 L736.92,340.45 L737.89,340.20 L738.86,339.94 L739.82,339.68 L740.78,339.40 L741.75,339.12 L742.70,338.84 L743.66,338.54 L744.62,338.24 L745.57,337.94 L746.52,337.62 L747.47,337.30 L748.41,336.98 L749.36,336.65 L750.30,336.31 L751.24,335.97 L752.18,335.62 L753.12,335.27 L754.05,334.91 L754.99,334.55 L755.92,334.19 L756.85,333.82 L757.78,333.45 L758.70,333.07 L759.63,332.69 L760.56,332.31 L761.48,331.93 L762.40,331.54 L763.33,331.15 L764.25,330.76 L765.17,330.37 L766.09,329.97 L767.00,329.57 L767.92,329.17 L768.84,328.77 L769.76,328.37 L770.67,327.97 L771.59,327.56 L772.50,327.15 L773.41,326.75 L774.33,326.34 L775.24,325.93 L776.15,325.51 L777.06,325.10 L777.98,324.69 L778.89,324.27 L779.80,323.85 L780.71,323.44 L781.61,323.02 L782.52,322.60 L783.43,322.18 L784.34,321.76 L785.25,321.34 L786.16,320.92 L787.06,320.50 L787.97,320.07 L788.88,319.65 L789.79,319.23 L790.69,318.80 L791.60,318.38 L792.51,317.96 L793.41,317.53 L794.32,317.11 L795.23,316.69 L796.13,316.26 L797.04,315.84 L797.95,315.41 L798.85,314.99 L799.76,314.57 L800.67,314.15 L801.58,313.73 L802.48,313.30 L803.39,312.88 L804.30,312.46 L805.21,312.04 L806.12,311.62 L807.03,311.21 L807.94,310.79 L808.85,310.37 L809.76,309.96 L810.67,309.54 L811.58,309.13 L812.49,308.72 L813.40,308.31 L814.32,307.90 L815.23,307.49 L816.15,307.08 L817.06,306.68 L817.98,306.27 L818.89,305.87 L819.81,305.47 L820.73,305.07 L821.65,304.67 L822.57,304.28 L823.49,303.89 L824.41,303.49 L825.33,303.10 L826.25,302.72 L827.18,302.33 L828.10,301.95 L829.03,301.57 L829.95,301.19 L830.88,300.81 L831.81,300.43 L832.74,300.06 L833.66,299.69 L834.60,299.32 L835.53,298.96 L836.46,298.59 L837.39,298.23 L838.33,297.87 L839.26,297.51 L840.20,297.16 L841.13,296.80 L842.07,296.45 L843.01,296.10 L843.95,295.75 L844.89,295.41 L845.83,295.07 L846.77,294.73 L847.71,294.39 L848.65,294.05 L849.60,293.72 L850.54,293.39 L851.49,293.06 L852.43,292.73 L853.38,292.41 L854.33,292.09 L855.27,291.77 L856.22,291.45 L857.17,291.13 L858.12,290.82 L859.08,290.51 L860.03,290.20 L860.98,289.90 L861.93,289.59 L862.89,289.29 L863.84,288.99 L864.80,288.70 L865.76,288.40 L866.71,288.11 L867.67,287.82 L868.63,287.54 L869.59,287.25 L870.55,286.97 L871.51,286.69 L872.47,286.41 L873.44,286.14 L874.40,285.87 L875.36,285.60 L876.33,285.33 L877.29,285.06 L878.26,284.80 L879.22,284.54 L880.19,284.28 L881.16,284.03 L882.13,283.78 L883.10,283.53 L884.07,283.28 L885.04,283.04 L886.01,282.79 L886.98,282.55 L887.95,282.32 L888.93,282.08 L889.90,281.85 L890.87,281.62 L891.85,281.39 L892.82,281.17 L893.80,280.95 L894.78,280.73 L895.75,280.51 L896.73,280.30 L897.71,280.09 L898.69,279.88 L899.67,279.67 L900.65,279.47 L901.63,279.27 L902.61,279.07 L903.59,278.88 L904.57,278.68 L905.56,278.49 L906.54,278.31 L907.52,278.12 L908.51,277.94 L909.49,277.76 L910.48,277.59 L911.46,277.41 L912.45,277.24 L913.44,277.07 L914.42,276.91 L915.41,276.74 L916.40,276.58 L917.39,276.43 L918.37,276.27 L919.36,276.12 L920.35,275.97 L921.34,275.83 L922.33,275.68 L923.33,275.54 L924.32,275.40 L925.31,275.27 L926.30,275.14" fill="none" stroke="#000" stroke-width="1"/><path d="M68.46,269.63 L69.43,269.86 L70.40,270.10 L71.37,270.35 L72.34,270.61 L73.30,270.87 L74.27,271.14 L75.23,271.42 L76.19,271.70 L77.15,271.99 L78.10,272.29 L79.05,272.60 L80.00,272.91 L80.95,273.24 L81.90,273.56 L82.84,273.90 L83.78,274.24 L84.72,274.59 L85.65,274.95 L86.58,275.31 L87.51,275.68 L88.44,276.06 L89.37,276.44 L90.29,276.83 L91.21,277.23 L92.12,277.63 L93.03,278.04 L93.94,278.46 L94.85,278.88 L95.75,279.31 L96.66,279.74 L97.55,280.18 L98.45,280.63 L99.34,281.09 L100.23,281.55 L101.11,282.01 L102.00,282.48 L102.88,282.96 L103.75,283.45 L104.62,283.94 L105.49,284.43 L106.36,284.93 L107.22,285.44 L108.08,285.95 L108.94,286.47 L109.79,286.99 L110.64,287.52 L111.49,288.06 L112.33,288.59 L113.17,289.14 L114.00,289.69 L114.84,290.24 L115.67,290.80 L116.49,291.37 L117.31,291.94 L118.13,292.51 L118.95,293.09 L119.76,293.68 L120.57,294.27 L121.38,294.86 L122.18,295.46 L122.98,296.06 L123.77,296.67 L124.56,297.28 L125.35,297.90 L126.14,298.52 L126.92,299.14 L127.70,299.77 L128.47,300.40 L129.24,301.04 L130.01,301.68 L130.78,302.33 L131.54,302.98 L132.29,303.63 L133.05,304.29 L133.80,304.95 L134.55,305.62 L135.29,306.28 L136.03,306.96 L136.77,307.63 L137.50,308.31 L138.24,309.00 L138.96,309.68 L139.69,310.37 L140.41,311.07 L141.13,311.76 L141.84,312.46 L142.55,313.17 L143.26,313.87 L143.97,314.58 L144.67,315.30 L145.37,316.01 L146.06,316.73 L146.75,317.46 L147.44,318.18 L148.13,318.91 L148.81,319.64 L149.49,320.38 L150.17,321.11 L150.84,321.86 L151.51,322.60 L152.18,323.34 L152.84,324.09 L153.50,324.84 L154.16,325.60 L154.81,326.35 L155.47,327.11 L156.11,327.88 L156.76,328.64 L157.40,329.41 L158.04,330.18 L158.68,330.95 L159.31,331.72 L159.94,332.50 L160.57,333.28 L161.20,334.06 L161.82,334.84 L162.44,335.63 L163.06,336.42 L163.67,337.21 L164.28,338.00 L164.89,338.79 L165.49,339.59 L166.10,340.39 L166.70,341.19 L167.29,341.99 L167.89,342.80 L168.48,343.60 L169.07,344.41 L169.66,345.22 L170.24,346.03 L170.82,346.85 L171.41,347.66 L171.98,348.48 L172.56,349.30 L173.13,350.12 L173.71,350.94 L174.27,351.76 L174.84,352.59 L175.41,353.41 L175.97,354.24 L176.54,355.06 L177.10,355.89 L177.65,356.72 L178.21,357.55 L178.77,358.39 L179.32,359.22 L179.88,360.05 L180.43,360.89 L180.98,361.72 L181.53,362.56 L182.07,363.40 L182.62,364.24 L183.16,365.08 L183.71,365.92 L184.25,366.76 L184.79,367.60 L185.34,368.44 L185.88,369.28 L186.42,370.12 L186.96,370.97 L187.49,371.81 L188.03,372.65 L188.57,373.50 L189.11,374.34 L189.64,375.19 L190.18,376.03 L190.71,376.88 L191.25,377.72 L191.79,378.57 L192.32,379.41 L192.86,380.26 L193.39,381.10 L193.93,381.95 L194.46,382.79 L195.00,383.64 L195.53,384.48 L196.07,385.33 L196.61,386.17 L197.14,387.02 L197.68,387.86 L198.22,388.70 L198.76,389.55 L199.30,390.39 L199.84,391.23 L200.38,392.07 L200.92,392.92 L201.46,393.76 L202.01,394.60 L202.55,395.44 L203.10,396.27 L203.64,397.11 L204.19,397.95 L204.74,398.79 L205.29,399.62 L205.84,400.46 L206.40,401.29 L206.95,402.12 L207.51,402.95 L208.07,403.78 L208.63,404.61 L209.19,405.44 L209.75,406.27 L210.32,407.10 L210.88,407.92 L211.45,408.74 L212.02,409.56 L212.60,410.39 L213.17,411.20 L213.75,412.02 L214.33,412.84 L214.91,413.65 L215.49,414.47 L216.08,415.28 L216.67,416.09 L217.26,416.89 L217.85,417.70 L218.45,418.50 L219.04,419.30 L219.65,420.10 L220.25,420.90 L220.86,421.70 L221.47,422.49 L222.08,423.28 L222.69,424.07 L223.31,424.86 L223.94,425.64 L224.56,426.42 L225.19,427.20 L225.83,427.97 L226.47,428.74 L227.11,429.51 L227.76,430.27 L228.41,431.03 L229.07,431.78 L229.73,432.53 L230.40,433.28 L231.07,434.02 L231.74,434.76 L232.43,435.49 L233.11,436.22 L233.81,436.94 L234.50,437.66 L235.21,438.37 L235.92,439.07 L236.64,439.77 L237.36,440.46 L238.09,441.15 L238.82,441.83 L239.57,442.50 L240.32,443.16 L241.07,443.82 L241.83,444.46 L242.60,445.10 L243.38,445.73 L244.16,446.35 L244.96,446.97 L245.76,447.57 L246.56,448.16 L247.38,448.74 L248.20,449.31 L249.03,449.87 L249.87,450.42 L250.71,450.95 L251.57,451.47 L252.43,451.98 L253.30,452.47 L254.18,452.95 L255.06,453.42 L255.96,453.87 L256.86,454.30 L257.77,454.72 L258.69,455.12 L259.61,455.50 L260.54,455.86 L261.48,456.21 L262.43,456.53 L263.38,456.84 L264.34,457.13 L265.31,457.39 L266.27,457.64 L267.25,457.87 L268.23,458.08 L269.21,458.27 L270.20,458.44 L271.18,458.59 L272.18,458.72 L273.17,458.84 L274.17,458.93 L275.16,459.01 L276.16,459.06 L277.16,459.10 L278.16,459.12 L279.16,459.11 L280.16,459.09 L281.16,459.06 L282.16,459.00 L283.16,458.92 L284.16,458.83 L285.15,458.72 L286.14,458.58 L287.13,458.44 L288.12,458.27 L289.10,458.08 L290.08,457.88 L291.06,457.66 L292.03,457.42 L293.00,457.17 L293.96,456.90 L294.92,456.61 L295.87,456.30 L296.82,455.97 L297.76,455.63 L298.69,455.27 L299.62,454.90 L300.54,454.51 L301.45,454.10 L302.36,453.68 L303.26,453.23 L304.15,452.78 L305.03,452.30 L305.90,451.81 L306.77,451.31 L307.62,450.79 L308.46,450.25 L309.30,449.70 L310.12,449.13 L310.94,448.55 L311.75,447.96 L312.54,447.35 L313.33,446.73 L314.10,446.10 L314.87,445.46 L315.63,444.81 L316.38,444.14 L317.12,443.47 L317.85,442.79 L318.57,442.10 L319.29,441.40 L320.00,440.69 L320.70,439.97 L321.39,439.25 L322.07,438.52 L322.75,437.78 L323.42,437.04 L324.08,436.29 L324.73,435.53 L325.38,434.77 L326.03,434.00 L326.67,433.23 L327.30,432.46 L327.92,431.68 L328.55,430.89 L329.16,430.11 L329.78,429.31 L330.38,428.52 L330.99,427.72 L331.59,426.92 L332.18,426.12 L332.77,425.31 L333.36,424.50 L333.95,423.69 L334.53,422.88 L335.11,422.06 L335.69,421.25 L336.27,420.43 L336.84,419.61 L337.41,418.79 L337.98,417.97 L338.55,417.14 L339.12,416.32 L339.69,415.50 L340.26,414.67 L340.83,413.85 L341.39,413.02 L341.96,412.20 L342.53,411.38 L343.10,410.55 L343.67,409.73 L344.24,408.91 L344.81,408.09 L345.38,407.27 L345.96,406.45 L346.54,405.63 L347.12,404.82 L347.70,404.00 L348.28,403.19 L348.86,402.37 L349.45,401.56 L350.04,400.75 L350.62,399.94 L351.21,399.14 L351.81,398.33 L352.40,397.52 L353.00,396.72 L353.59,395.92 L354.19,395.12 L354.79,394.31 L355.39,393.52 L356.00,392.72 L356.60,391.92 L357.21,391.13 L357.82,390.33 L358.43,389.54 L359.04,388.75 L359.65,387.95 L360.27,387.16 L360.88,386.38 L361.50,385.59 L362.12,384.80 L362.74,384.02 L363.36,383.23 L363.98,382.45 L364.61,381.67 L365.23,380.89 L365.86,380.11 L366.49,379.33 L367.12,378.55 L367.75,377.77 L368.38,377.00 L369.01,376.22 L369.65,375.45 L370.29,374.68 L370.92,373.91 L371.56,373.13 L372.20,372.36 L372.84,371.60 L373.48,370.83 L374.12,370.06 L374.77,369.30 L375.42,368.53 L376.06,367.77 L376.71,367.01 L377.36,366.25 L378.01,365.49 L378.67,364.73 L379.32,363.97 L379.98,363.22 L380.64,362.46 L381.30,361.71 L381.96,360.96 L382.62,360.21 L383.29,359.47 L383.95,358.72 L384.62,357.98 L385.29,357.23 L385.97,356.49 L386.64,355.75 L387.32,355.02 L388.00,354.28 L388.68,353.55 L389.36,352.81 L390.04,352.08 L390.73,351.36 L391.42,350.63 L392.11,349.91 L392.80,349.18 L393.50,348.47 L394.19,347.75 L394.89,347.03 L395.60,346.32 L396.30,345.61 L397.01,344.90 L397.72,344.19 L398.43,343.49 L399.14,342.79 L399.86,342.09 L400.58,341.40 L401.30,340.70 L402.02,340.01 L402.75,339.32 L403.48,338.64 L404.21,337.96 L404.94,337.28 L405.68,336.60 L406.42,335.93 L407.16,335.25 L407.91,334.59 L408.66,333.92 L409.41,333.26 L410.16,332.60 L410.92,331.95 L411.68,331.30 L412.44,330.65 L413.20,330.00 L413.97,329.36 L414.74,328.72 L415.52,328.09 L416.29,327.46 L417.07,326.83 L417.86,326.21 L418.64,325.59 L419.43,324.97 L420.22,324.36 L421.02,323.75 L421.82,323.15 L422.62,322.55 L423.42,321.96 L424.23,321.37 L425.04,320.78 L425.85,320.19 L426.67,319.61 L427.49,319.04 L428.31,318.47 L429.13,317.90 L429.96,317.33 L430.79,316.77 L431.62,316.21 L432.45,315.66 L433.28,315.11 L434.12,314.56 L434.96,314.02 L435.80,313.48 L436.65,312.94 L437.49,312.40 L438.34,311.87 L439.19,311.34 L440.04,310.82 L440.90,310.30 L441.75,309.78 L442.61,309.26 L443.47,308.75 L444.33,308.23 L445.19,307.72 L446.05,307.22 L446.91,306.71 L447.78,306.21 L448.65,305.71 L449.52,305.22 L450.39,304.72 L451.26,304.23 L452.13,303.74 L453.00,303.25 L453.88,302.77 L454.75,302.28 L455.63,301.80 L456.51,301.32 L457.39,300.84 L458.27,300.36 L459.15,299.89 L460.03,299.41 L460.91,298.94 L461.79,298.47 L462.68,298.00 L463.56,297.53 L464.44,297.06 L465.33,296.60 L466.22,296.13 L467.10,295.67 L467.99,295.21 L468.88,294.74 L469.77,294.28 L470.65,293.82 L471.54,293.36 L472.43,292.90 L473.32,292.45 L474.21,291.99 L475.10,291.53 L475.99,291.08 L476.89,290.62 L477.78,290.17 L478.67,289.72 L479.56,289.27 L480.46,288.82 L481.35,288.37 L482.25,287.93 L483.14,287.48 L484.04,287.04 L484.94,286.59 L485.84,286.15 L486.74,285.72 L487.64,285.28 L488.54,284.84 L489.44,284.41 L490.34,283.98 L491.24,283.55 L492.15,283.12 L493.05,282.69 L493.96,282.27 L494.87,281.85 L495.78,281.43 L496.69,281.01 L497.60,280.59 L498.51,280.18 L499.42,279.77 L500.33,279.36 L501.25,278.95 L502.16,278.55 L503.08,278.15 L504.00,277.75 L504.92,277.36 L505.84,276.96 L506.76,276.57 L507.68,276.19 L508.60,275.80 L509.53,275.42 L510.46,275.04 L511.38,274.67 L512.31,274.29 L513.24,273.93 L514.17,273.56 L515.11,273.20 L516.04,272.84 L516.98,272.48 L517.91,272.13 L518.85,271.78 L519.79,271.44 L520.73,271.10 L521.67,270.76 L522.62,270.42 L523.56,270.09 L524.51,269.77 L525.45,269.45 L526.40,269.13 L527.35,268.81 L528.30,268.50 L529.26,268.20 L530.21,267.89 L531.17,267.60 L532.12,267.30 L533.08,267.02 L534.04,266.73 L535.00,266.45 L535.96,266.18 L536.93,265.90 L537.89,265.64 L538.86,265.38 L539.82,265.12 L540.79,264.87 L541.76,264.62 L542.73,264.38 L543.70,264.14 L544.68,263.91 L545.65,263.68 L546.63,263.46 L547.60,263.25 L548.58,263.03 L549.56,262.83 L550.54,262.63 L551.52,262.43 L552.51,262.24 L553.49,262.06 L554.47,261.88 L555.46,261.71 L556.45,261.54 L557.43,261.38 L558.42,261.23 L559.41,261.08 L560.40,260.94 L561.39,260.80 L562.39,260.67 L563.38,260.55 L564.37,260.43 L565.37,260.32 L566.36,260.22 L567.36,260.13 L568.36,260.04 L569.35,259.96 L570.35,259.88 L571.35,259.82 L572.35,259.76 L573.35,259.70 L574.35,259.66 L575.35,259.62 L576.35,259.59 L577.35,259.57 L578.35,259.56 L579.35,259.56 L580.35,259.56 L581.35,259.57 L582.35,259.59 L583.35,259.62 L584.35,259.66 L585.35,259.71 L586.35,259.77 L587.35,259.83 L588.35,259.91 L589.34,259.99 L590.34,260.09 L591.33,260.19 L592.33,260.30 L593.32,260.43 L594.31,260.56 L595.30,260.70 L596.29,260.85 L597.28,261.02 L598.26,261.19 L599.25,261.37 L600.23,261.57 L601.21,261.77 L602.19,261.98 L603.16,262.20 L604.14,262.43 L605.11,262.67 L606.08,262.91 L607.05,263.17 L608.01,263.43 L608.98,263.70 L609.94,263.98 L610.90,264.26 L611.86,264.55 L612.81,264.85 L613.76,265.16 L614.71,265.47 L615.66,265.79 L616.61,266.12 L617.55,266.45 L618.49,266.79 L619.43,267.13 L620.37,267.48 L621.30,267.84 L622.24,268.20 L623.17,268.57 L624.10,268.94 L625.03,269.31 L625.95,269.69 L626.87,270.08 L627.80,270.47 L628.72,270.86 L629.63,271.26 L630.55,271.66 L631.47,272.06 L632.38,272.47 L633.29,272.88 L634.20,273.30 L635.11,273.72 L636.02,274.14 L636.93,274.56 L637.83,274.99 L638.73,275.42 L639.64,275.85 L640.54,276.28 L641.44,276.72 L642.34,277.16 L643.24,277.60 L644.14,278.04 L645.03,278.48 L645.93,278.93 L646.83,279.37 L647.72,279.82 L648.62,280.27 L649.51,280.71 L650.40,281.16 L651.30,281.61 L652.19,282.06 L653.09,282.52 L653.98,282.97 L654.87,283.42 L655.76,283.87 L656.66,284.32 L657.55,284.77 L658.44,285.22 L659.34,285.67 L660.23,286.12 L661.13,286.57 L662.02,287.02 L662.92,287.46 L663.81,287.91 L664.71,288.35 L665.61,288.79 L666.51,289.23 L667.41,289.67 L668.31,290.11 L669.21,290.55 L670.11,290.98 L671.01,291.41 L671.92,291.84 L672.82,292.27 L673.73,292.69 L674.63,293.11 L675.54,293.53 L676.45,293.95 L677.36,294.36 L678.27,294.78 L679.19,295.19 L680.10,295.59 L681.02,296.00 L681.93,296.40 L682.85,296.79 L683.77,297.19 L684.69,297.58 L685.61,297.97 L686.54,298.35 L687.46,298.73 L688.39,299.11 L689.32,299.49 L690.25,299.86 L691.18,300.23 L692.11,300.59 L693.04,300.95 L693.98,301.30 L694.92,301.66 L695.85,302.00 L696.79,302.35 L697.74,302.69 L698.68,303.02 L699.62,303.35 L700.57,303.68 L701.52,304.00 L702.47,304.32 L703.42,304.63 L704.37,304.94 L705.32,305.24 L706.28,305.54 L707.23,305.83 L708.19,306.12 L709.15,306.40 L710.11,306.68 L711.08,306.95 L712.04,307.22 L713.01,307.48 L713.97,307.74 L714.94,307.99 L715.91,308.24 L716.88,308.48 L717.85,308.71 L718.83,308.94 L719.80,309.17 L720.78,309.39 L721.76,309.60 L722.74,309.81 L723.72,310.01 L724.70,310.20 L725.68,310.39 L726.66,310.58 L727.65,310.75 L728.63,310.92 L729.62,311.09 L730.61,311.25 L731.60,311.40 L732.59,311.54 L733.58,311.68 L734.57,311.81 L735.56,311.94 L736.56,312.06 L737.55,312.17 L738.55,312.27 L739.54,312.37 L740.54,312.46 L741.54,312.55 L742.53,312.62 L743.53,312.69 L744.53,312.75 L745.53,312.81 L746.53,312.85 L747.53,312.89 L748.53,312.92 L749.53,312.95 L750.53,312.96 L751.53,312.97 L752.53,312.97 L753.53,312.96 L754.53,312.95 L755.53,312.93 L756.53,312.90 L757.53,312.87 L758.53,312.83 L759.53,312.79 L760.53,312.74 L761.53,312.68 L762.53,312.62 L763.53,312.56 L764.53,312.49 L765.53,312.41 L766.52,312.34 L767.52,312.25 L768.52,312.17 L769.51,312.08 L770.51,311.98 L771.51,311.89 L772.50,311.79 L773.50,311.68 L774.49,311.58 L775.49,311.47 L776.48,311.36 L777.48,311.25 L778.47,311.13 L779.46,311.02 L780.46,310.90 L781.45,310.77 L782.44,310.65 L783.44,310.52 L784.43,310.39 L785.42,310.26 L786.41,310.13 L787.40,309.99 L788.39,309.85 L789.38,309.71 L790.37,309.57 L791.36,309.42 L792.35,309.28 L793.34,309.13 L794.33,308.98 L795.32,308.82 L796.31,308.67 L797.30,308.51 L798.28,308.35 L799.27,308.18 L800.26,308.02 L801.25,307.85 L802.23,307.68 L803.22,307.51 L804.20,307.34 L805.19,307.16 L806.17,306.99 L807.16,306.81 L808.14,306.63 L809.13,306.44 L810.11,306.26 L811.09,306.07 L812.07,305.88 L813.06,305.69 L814.04,305.50 L815.02,305.30 L816.00,305.10 L816.98,304.91 L817.96,304.71 L818.94,304.50 L819.92,304.30 L820.90,304.09 L821.88,303.88 L822.86,303.67 L823.84,303.46 L824.81,303.25 L825.79,303.03 L826.77,302.82 L827.74,302.60 L828.72,302.38 L829.70,302.16 L830.67,301.93 L831.65,301.71 L832.62,301.48 L833.59,301.25 L834.57,301.02 L835.54,300.79 L836.52,300.56 L837.49,300.33 L838.46,300.09 L839.43,299.86 L840.41,299.62 L841.38,299.38 L842.35,299.14 L843.32,298.90 L844.29,298.66 L845.26,298.41 L846.23,298.17 L847.20,297.93 L848.17,297.68 L849.14,297.44 L850.11,297.19 L851.08,296.94 L852.05,296.70 L853.02,296.45 L853.99,296.20 L854.96,295.96 L855.93,295.71 L856.90,295.47 L857.87,295.22 L858.84,294.98 L859.81,294.74 L860.78,294.49 L861.76,294.25 L862.73,294.01 L863.70,293.78 L864.67,293.54 L865.64,293.30 L866.62,293.07 L867.59,292.84 L868.56,292.61 L869.54,292.38 L870.51,292.15 L871.49,291.92 L872.46,291.70 L873.44,291.47 L874.41,291.25 L875.39,291.03 L876.36,290.81 L877.34,290.59 L878.32,290.37 L879.29,290.15 L880.27,289.93 L881.25,289.72 L882.22,289.51 L883.20,289.29 L884.18,289.08 L885.16,288.87 L886.14,288.66 L887.11,288.45 L888.09,288.24 L889.07,288.03 L890.05,287.82 L891.03,287.61 L892.01,287.41 L892.99,287.20 L893.97,287.00 L894.95,286.79 L895.93,286.59 L896.91,286.39 L897.88,286.18 L898.86,285.98 L899.84,285.78 L900.82,285.58 L901.81,285.38 L902.79,285.18 L903.77,284.97 L904.75,284.77 L905.73,284.57 L906.71,284.37 L907.69,284.18 L908.67,283.98 L909.65,283.78 L910.63,283.58 L911.61,283.38 L912.59,283.18 L913.57,282.98 L914.55,282.78 L915.53,282.58 L916.51,282.38 L917.49,282.18 L918.47,281.98 L919.45,281.78 L920.43,281.58 L921.41,281.38 L922.39,281.18 L923.38,280.98 L924.36,280.78 L925.34,280.58 L926.32,280.37" fill="none" stroke="#00ff00" stroke-width="1"/><path d="M68.11,245.77 L68.94,245.21 L69.76,244.64 L70.58,244.06 L71.39,243.47 L72.19,242.87 L72.98,242.26 L73.77,241.65 L74.54,241.02 L75.32,240.38 L76.08,239.74 L76.84,239.08 L77.59,238.42 L78.33,237.75 L79.07,237.07 L79.80,236.39 L80.52,235.70 L81.23,235.00 L81.94,234.30 L82.65,233.59 L83.35,232.87 L84.04,232.15 L84.73,231.42 L85.41,230.69 L86.09,229.96 L86.76,229.22 L87.43,228.47 L88.09,227.72 L88.75,226.97 L89.41,226.22 L90.06,225.46 L90.71,224.70 L91.36,223.94 L92.00,223.17 L92.65,222.41 L93.29,221.64 L93.93,220.87 L94.57,220.10 L95.20,219.33 L95.84,218.56 L96.47,217.79 L97.11,217.01 L97.75,216.24 L98.38,215.47 L99.02,214.70 L99.66,213.93 L100.30,213.16 L100.94,212.39 L101.58,211.63 L102.23,210.86 L102.88,210.10 L103.53,209.34 L104.18,208.59 L104.84,207.83 L105.50,207.08 L106.16,206.34 L106.83,205.59 L107.51,204.85 L108.18,204.12 L108.87,203.39 L109.55,202.66 L110.25,201.94 L110.95,201.22 L111.65,200.51 L112.36,199.81 L113.08,199.11 L113.80,198.42 L114.53,197.74 L115.26,197.06 L116.01,196.39 L116.75,195.73 L117.51,195.07 L118.27,194.42 L119.04,193.78 L119.82,193.15 L120.60,192.53 L121.39,191.91 L122.18,191.31 L122.99,190.71 L123.80,190.13 L124.61,189.55 L125.44,188.98 L126.27,188.42 L127.11,187.88 L127.95,187.34 L128.80,186.82 L129.66,186.31 L130.53,185.81 L131.40,185.32 L132.28,184.84 L133.17,184.38 L134.06,183.94 L134.97,183.51 L135.87,183.09 L136.79,182.69 L137.71,182.30 L138.64,181.94 L139.58,181.59 L140.53,181.25 L141.48,180.94 L142.43,180.65 L143.39,180.38 L144.36,180.13 L145.34,179.91 L146.32,179.70 L147.30,179.52 L148.29,179.37 L149.28,179.24 L150.28,179.14 L151.27,179.07 L152.27,179.03 L153.27,179.02 L154.27,179.03 L155.27,179.08 L156.27,179.16 L157.26,179.27 L158.25,179.41 L159.24,179.59 L160.21,179.80 L161.19,180.04 L162.15,180.31 L163.10,180.62 L164.04,180.95 L164.97,181.32 L165.89,181.71 L166.80,182.13 L167.70,182.57 L168.58,183.04 L169.46,183.52 L170.32,184.02 L171.18,184.54 L172.02,185.08 L172.85,185.64 L173.67,186.21 L174.49,186.79 L175.29,187.38 L176.08,187.99 L176.87,188.61 L177.65,189.24 L178.41,189.88 L179.17,190.53 L179.93,191.19 L180.67,191.86 L181.41,192.54 L182.14,193.22 L182.86,193.91 L183.57,194.61 L184.28,195.32 L184.98,196.03 L185.68,196.75 L186.37,197.47 L187.05,198.20 L187.73,198.94 L188.40,199.68 L189.07,200.42 L189.73,201.17 L190.39,201.93 L191.04,202.68 L191.69,203.45 L192.34,204.21 L192.98,204.98 L193.62,205.75 L194.25,206.52 L194.89,207.29 L195.52,208.07 L196.15,208.85 L196.77,209.63 L197.39,210.41 L198.01,211.19 L198.63,211.98 L199.25,212.77 L199.86,213.56 L200.47,214.35 L201.08,215.14 L201.69,215.94 L202.29,216.73 L202.89,217.53 L203.49,218.33 L204.09,219.14 L204.68,219.94 L205.28,220.75 L205.87,221.55 L206.45,222.36 L207.04,223.17 L207.62,223.99 L208.20,224.80 L208.78,225.61 L209.36,226.43 L209.94,227.25 L210.51,228.07 L211.08,228.89 L211.65,229.71 L212.22,230.53 L212.79,231.36 L213.35,232.18 L213.92,233.01 L214.48,233.84 L215.04,234.66 L215.60,235.49 L216.16,236.32 L216.72,237.15 L217.27,237.98 L217.83,238.81 L218.39,239.64 L218.94,240.48 L219.50,241.31 L220.05,242.14 L220.61,242.97 L221.16,243.80 L221.72,244.64 L222.27,245.47 L222.83,246.30 L223.38,247.13 L223.94,247.96 L224.50,248.79 L225.05,249.62 L225.61,250.45 L226.17,251.28 L226.73,252.11 L227.29,252.94 L227.86,253.76 L228.42,254.59 L228.99,255.42 L229.55,256.24 L230.12,257.06 L230.69,257.88 L231.27,258.70 L231.84,259.52 L232.42,260.34 L233.00,261.15 L233.58,261.97 L234.16,262.78 L234.75,263.59 L235.33,264.40 L235.92,265.21 L236.52,266.01 L237.11,266.81 L237.71,267.61 L238.32,268.41 L238.92,269.21 L239.53,270.00 L240.14,270.79 L240.76,271.58 L241.38,272.37 L242.00,273.15 L242.63,273.93 L243.25,274.71 L243.89,275.48 L244.53,276.25 L245.17,277.02 L245.81,277.78 L246.46,278.55 L247.11,279.30 L247.77,280.06 L248.43,280.81 L249.10,281.55 L249.77,282.30 L250.44,283.03 L251.12,283.77 L251.80,284.50 L252.49,285.22 L253.19,285.94 L253.88,286.66 L254.59,287.37 L255.30,288.08 L256.01,288.78 L256.73,289.47 L257.45,290.16 L258.18,290.85 L258.92,291.53 L259.66,292.20 L260.40,292.86 L261.16,293.52 L261.91,294.18 L262.68,294.82 L263.45,295.46 L264.22,296.09 L265.00,296.72 L265.79,297.33 L266.58,297.94 L267.38,298.54 L268.19,299.14 L269.00,299.72 L269.82,300.30 L270.64,300.86 L271.47,301.42 L272.31,301.97 L273.15,302.50 L274.00,303.03 L274.86,303.55 L275.72,304.05 L276.59,304.55 L277.47,305.03 L278.35,305.51 L279.23,305.97 L280.13,306.42 L281.03,306.86 L281.93,307.28 L282.84,307.69 L283.76,308.09 L284.68,308.48 L285.61,308.85 L286.54,309.21 L287.48,309.56 L288.43,309.89 L289.38,310.20 L290.33,310.50 L291.29,310.79 L292.25,311.06 L293.22,311.32 L294.19,311.56 L295.16,311.78 L296.14,311.99 L297.12,312.18 L298.11,312.35 L299.10,312.50 L300.09,312.64 L301.08,312.75 L302.08,312.85 L303.07,312.93 L304.07,312.99 L305.07,313.03 L306.07,313.04 L307.07,313.04 L308.07,313.01 L309.07,312.97 L310.07,312.90 L311.06,312.80 L312.06,312.69 L313.05,312.55 L314.03,312.39 L315.02,312.21 L316.00,312.01 L316.97,311.79 L317.94,311.56 L318.91,311.30 L319.88,311.04 L320.83,310.75 L321.79,310.45 L322.74,310.14 L323.69,309.82 L324.63,309.49 L325.57,309.14 L326.50,308.79 L327.44,308.43 L328.36,308.05 L329.29,307.68 L330.21,307.29 L331.13,306.90 L332.05,306.51 L332.97,306.10 L333.88,305.70 L334.80,305.29 L335.71,304.88 L336.62,304.47 L337.53,304.06 L338.44,303.64 L339.35,303.22 L340.25,302.80 L341.16,302.37 L342.07,301.95 L342.97,301.52 L343.87,301.10 L344.78,300.67 L345.68,300.24 L346.59,299.81 L347.49,299.38 L348.39,298.95 L349.29,298.52 L350.20,298.09 L351.10,297.66 L352.00,297.23 L352.91,296.80 L353.81,296.37 L354.72,295.95 L355.62,295.52 L356.53,295.10 L357.43,294.67 L358.34,294.25 L359.25,293.83 L360.16,293.42 L361.06,293.00 L361.98,292.59 L362.89,292.18 L363.80,291.77 L364.72,291.36 L365.63,290.96 L366.55,290.56 L367.47,290.17 L368.39,289.78 L369.31,289.39 L370.24,289.01 L371.16,288.63 L372.09,288.26 L373.02,287.89 L373.95,287.53 L374.88,287.17 L375.82,286.81 L376.76,286.47 L377.70,286.13 L378.64,285.79 L379.58,285.46 L380.53,285.14 L381.48,284.82 L382.43,284.52 L383.39,284.22 L384.34,283.92 L385.30,283.64 L386.26,283.36 L387.22,283.09 L388.19,282.83 L389.16,282.58 L390.13,282.34 L391.10,282.11 L392.08,281.89 L393.05,281.67 L394.03,281.47 L395.01,281.28 L396.00,281.10 L396.98,280.93 L397.97,280.77 L398.96,280.62 L399.95,280.49 L400.94,280.36 L401.94,280.25 L402.93,280.15 L403.93,280.06 L404.93,279.99 L405.92,279.93 L406.92,279.88 L407.92,279.83 L408.92,279.80 L409.92,279.78 L410.92,279.77 L411.92,279.77 L412.92,279.77 L413.92,279.78 L414.92,279.80 L415.92,279.82 L416.92,279.85 L417.92,279.89 L418.92,279.93 L419.92,279.97 L420.92,280.02 L421.92,280.07 L422.92,280.12 L423.91,280.17 L424.91,280.23 L425.91,280.29 L426.91,280.35 L427.91,280.40 L428.91,280.46 L429.91,280.52 L430.90,280.57 L431.90,280.63 L432.90,280.68 L433.90,280.73 L434.90,280.77 L435.90,280.81 L436.90,280.85 L437.90,280.88 L438.90,280.91 L439.90,280.93 L440.90,280.94 L441.90,280.95 L442.90,280.95 L443.90,280.94 L444.90,280.92 L445.90,280.89 L446.90,280.86 L447.90,280.82 L448.89,280.76 L449.89,280.70 L450.89,280.64 L451.89,280.56 L452.88,280.48 L453.88,280.39 L454.88,280.30 L455.87,280.20 L456.87,280.09 L457.86,279.98 L458.85,279.86 L459.85,279.74 L460.84,279.62 L461.83,279.49 L462.82,279.36 L463.81,279.23 L464.80,279.09 L465.79,278.95 L466.78,278.81 L467.77,278.67 L468.76,278.52 L469.75,278.38 L470.74,278.23 L471.73,278.09 L472.72,277.94 L473.71,277.80 L474.70,277.65 L475.69,277.51 L476.68,277.37 L477.67,277.23 L478.66,277.09 L479.65,276.96 L480.64,276.82 L481.64,276.70 L482.63,276.57 L483.62,276.45 L484.61,276.33 L485.61,276.22 L486.60,276.11 L487.60,276.01 L488.59,275.91 L489.59,275.82 L490.58,275.72 L491.58,275.64 L492.58,275.55 L493.57,275.47 L494.57,275.39 L495.57,275.32 L496.56,275.25 L497.56,275.18 L498.56,275.12 L499.56,275.06 L500.56,275.00 L501.56,274.95 L502.55,274.89 L503.55,274.84 L504.55,274.80 L505.55,274.75 L506.55,274.71 L507.55,274.67 L508.55,274.63 L509.55,274.59 L510.55,274.56 L511.55,274.52 L512.55,274.49 L513.55,274.46 L514.55,274.43 L515.55,274.41 L516.55,274.38 L517.55,274.36 L518.55,274.33 L519.55,274.31 L520.55,274.29 L521.55,274.27 L522.55,274.25 L523.55,274.23 L524.55,274.21 L525.55,274.19 L526.55,274.18 L527.55,274.16 L528.55,274.15 L529.55,274.14 L530.55,274.13 L531.55,274.12 L532.55,274.11 L533.55,274.10 L534.55,274.10 L535.55,274.10 L536.55,274.10 L537.55,274.10 L538.55,274.10 L539.55,274.10 L540.55,274.11 L541.55,274.12 L542.55,274.13 L543.55,274.14 L544.55,274.15 L545.55,274.17 L546.55,274.19 L547.55,274.21 L548.55,274.23 L549.55,274.26 L550.55,274.29 L551.54,274.32 L552.54,274.36 L553.54,274.39 L554.54,274.43 L555.54,274.48 L556.54,274.52 L557.54,274.57 L558.54,274.62 L559.54,274.68 L560.54,274.73 L561.53,274.79 L562.53,274.86 L563.53,274.93 L564.53,275.00 L565.52,275.07 L566.52,275.15 L567.52,275.23 L568.52,275.32 L569.51,275.40 L570.51,275.50 L571.50,275.59 L572.50,275.69 L573.49,275.79 L574.49,275.89 L575.48,276.00 L576.48,276.11 L577.47,276.23 L578.46,276.34 L579.46,276.46 L580.45,276.59 L581.44,276.71 L582.43,276.84 L583.42,276.98 L584.41,277.11 L585.40,277.25 L586.39,277.39 L587.38,277.54 L588.37,277.68 L589.36,277.83 L590.35,277.98 L591.34,278.14 L592.33,278.30 L593.31,278.46 L594.30,278.62 L595.29,278.79 L596.27,278.95 L597.26,279.13 L598.24,279.30 L599.23,279.47 L600.21,279.65 L601.19,279.83 L602.18,280.02 L603.16,280.20 L604.14,280.39 L605.12,280.58 L606.11,280.77 L607.09,280.97 L608.07,281.17 L609.05,281.37 L610.03,281.57 L611.01,281.77 L611.98,281.98 L612.96,282.19 L613.94,282.40 L614.92,282.61 L615.89,282.82 L616.87,283.04 L617.85,283.26 L618.82,283.48 L619.80,283.70 L620.77,283.92 L621.75,284.15 L622.72,284.38 L623.69,284.61 L624.67,284.84 L625.64,285.07 L626.61,285.31 L627.58,285.54 L628.55,285.78 L629.53,286.02 L630.50,286.26 L631.47,286.50 L632.44,286.75 L633.40,287.00 L634.37,287.24 L635.34,287.49 L636.31,287.74 L637.28,288.00 L638.25,288.25 L639.21,288.50 L640.18,288.76 L641.15,289.02 L642.11,289.28 L643.08,289.54 L644.04,289.80 L645.01,290.06 L645.97,290.33 L646.94,290.59 L647.90,290.86 L648.86,291.12 L649.83,291.39 L650.79,291.66 L651.75,291.93 L652.72,292.20 L653.68,292.47 L654.64,292.75 L655.60,293.02 L656.57,293.29 L657.53,293.57 L658.49,293.84 L659.45,294.12 L660.41,294.39 L661.37,294.67 L662.33,294.95 L663.29,295.23 L664.26,295.50 L665.22,295.78 L666.18,296.06 L667.14,296.34 L668.10,296.62 L669.06,296.90 L670.02,297.17 L670.98,297.45 L671.94,297.73 L672.90,298.01 L673.86,298.29 L674.82,298.57 L675.78,298.85 L676.74,299.13 L677.70,299.40 L678.66,299.68 L679.62,299.96 L680.58,300.24 L681.55,300.51 L682.51,300.79 L683.47,301.06 L684.43,301.34 L685.39,301.61 L686.35,301.89 L687.32,302.16 L688.28,302.43 L689.24,302.70 L690.20,302.97 L691.17,303.24 L692.13,303.51 L693.09,303.78 L694.06,304.05 L695.02,304.31 L695.99,304.58 L696.95,304.84 L697.92,305.10 L698.88,305.36 L699.85,305.62 L700.81,305.88 L701.78,306.14 L702.75,306.40 L703.71,306.65 L704.68,306.90 L705.65,307.15 L706.62,307.40 L707.59,307.65 L708.56,307.90 L709.53,308.14 L710.50,308.39 L711.47,308.63 L712.44,308.87 L713.41,309.11 L714.38,309.34 L715.35,309.57 L716.33,309.81 L717.30,310.04 L718.27,310.26 L719.25,310.49 L720.22,310.71 L721.20,310.93 L722.17,311.15 L723.15,311.37 L724.13,311.58 L725.10,311.80 L726.08,312.01 L727.06,312.21 L728.04,312.42 L729.02,312.62 L730.00,312.82 L730.98,313.02 L731.96,313.21 L732.94,313.40 L733.92,313.59 L734.91,313.77 L735.89,313.96 L736.87,314.14 L737.86,314.31 L738.84,314.49 L739.83,314.66 L740.81,314.82 L741.80,314.99 L742.79,315.15 L743.78,315.30 L744.76,315.46 L745.75,315.61 L746.74,315.75 L747.73,315.89 L748.72,316.03 L749.71,316.17 L750.71,316.30 L751.70,316.43 L752.69,316.55 L753.68,316.67 L754.68,316.78 L755.67,316.90 L756.66,317.00 L757.66,317.11 L758.65,317.20 L759.65,317.30 L760.65,317.39 L761.64,317.47 L762.64,317.55 L763.64,317.63 L764.63,317.70 L765.63,317.77 L766.63,317.83 L767.63,317.88 L768.63,317.94 L769.63,317.98 L770.63,318.02 L771.63,318.06 L772.62,318.09 L773.62,318.12 L774.62,318.14 L775.62,318.15 L776.62,318.16 L777.62,318.16 L778.62,318.16 L779.62,318.15 L780.62,318.14 L781.62,318.12 L782.62,318.09 L783.62,318.06 L784.62,318.02 L785.62,317.98 L786.62,317.93 L787.62,317.87 L788.62,317.81 L789.62,317.74 L790.61,317.66 L791.61,317.58 L792.61,317.49 L793.60,317.40 L794.60,317.30 L795.59,317.19 L796.58,317.08 L797.58,316.96 L798.57,316.83 L799.56,316.70 L800.55,316.56 L801.54,316.42 L802.53,316.27 L803.52,316.12 L804.51,315.96 L805.49,315.80 L806.48,315.63 L807.46,315.46 L808.45,315.28 L809.43,315.10 L810.41,314.91 L811.40,314.72 L812.38,314.53 L813.36,314.33 L814.34,314.12 L815.31,313.91 L816.29,313.70 L817.27,313.49 L818.24,313.27 L819.22,313.05 L820.19,312.82 L821.17,312.59 L822.14,312.36 L823.11,312.12 L824.08,311.89 L825.05,311.65 L826.02,311.40 L826.99,311.15 L827.96,310.91 L828.93,310.65 L829.90,310.40 L830.86,310.14 L831.83,309.89 L832.79,309.62 L833.76,309.36 L834.72,309.10 L835.69,308.83 L836.65,308.56 L837.62,308.29 L838.58,308.02 L839.54,307.75 L840.50,307.48 L841.46,307.20 L842.43,306.93 L843.39,306.65 L844.35,306.37 L845.31,306.09 L846.27,305.81 L847.23,305.53 L848.19,305.25 L849.15,304.97 L850.11,304.69 L851.07,304.41 L852.03,304.13 L852.99,303.85 L853.95,303.57 L854.91,303.29 L855.87,303.00 L856.83,302.72 L857.79,302.44 L858.75,302.16 L859.71,301.88 L860.67,301.60 L861.63,301.32 L862.59,301.04 L863.55,300.76 L864.51,300.48 L865.47,300.21 L866.43,299.93 L867.39,299.65 L868.35,299.37 L869.31,299.09 L870.27,298.82 L871.23,298.54 L872.19,298.26 L873.15,297.99 L874.12,297.71 L875.08,297.44 L876.04,297.16 L877.00,296.89 L877.96,296.62 L878.93,296.35 L879.89,296.07 L880.85,295.80 L881.81,295.53 L882.78,295.26 L883.74,294.99 L884.70,294.72 L885.67,294.45 L886.63,294.19 L887.59,293.92 L888.56,293.65 L889.52,293.39 L890.49,293.12 L891.45,292.86 L892.41,292.59 L893.38,292.33 L894.35,292.07 L895.31,291.81 L896.28,291.55 L897.24,291.29 L898.21,291.03 L899.17,290.77 L900.14,290.52 L901.11,290.26 L902.07,290.00 L903.04,289.75 L904.01,289.50 L904.98,289.25 L905.95,288.99 L906.91,288.74 L907.88,288.50 L908.85,288.25 L909.82,288.00 L910.79,287.75 L911.76,287.51 L912.73,287.27 L913.70,287.02 L914.67,286.78 L915.64,286.54 L916.61,286.30 L917.58,286.06 L918.56,285.83 L919.53,285.59 L920.50,285.36 L921.47,285.12 L922.44,284.89 L923.42,284.66 L924.39,284.43 L925.36,284.20 L926.34,283.98" fill="none" stroke="#ff0000" stroke-width="1"/><path d="M68.14,147.76 L68.50,148.69 L68.86,149.63 L69.21,150.56 L69.57,151.50 L69.93,152.43 L70.28,153.37 L70.64,154.30 L70.99,155.24 L71.35,156.17 L71.70,157.11 L72.05,158.04 L72.40,158.98 L72.76,159.92 L73.11,160.85 L73.46,161.79 L73.81,162.73 L74.16,163.67 L74.51,164.60 L74.86,165.54 L75.21,166.48 L75.55,167.42 L75.90,168.35 L76.25,169.29 L76.60,170.23 L76.94,171.17 L77.29,172.11 L77.63,173.05 L77.98,173.99 L78.32,174.93 L78.67,175.87 L79.01,176.80 L79.35,177.74 L79.70,178.68 L80.04,179.62 L80.38,180.56 L80.72,181.51 L81.06,182.45 L81.40,183.39 L81.74,184.33 L82.08,185.27 L82.42,186.21 L82.76,187.15 L83.10,188.09 L83.44,189.03 L83.78,189.98 L84.12,190.92 L84.45,191.86 L84.79,192.80 L85.13,193.74 L85.46,194.69 L85.80,195.63 L86.13,196.57 L86.47,197.51 L86.80,198.46 L87.13,199.40 L87.47,200.34 L87.80,201.29 L88.13,202.23 L88.47,203.17 L88.80,204.12 L89.13,205.06 L89.46,206.01 L89.79,206.95 L90.12,207.89 L90.46,208.84 L90.79,209.78 L91.12,210.73 L91.44,211.67 L91.77,212.62 L92.10,213.56 L92.43,214.51 L92.76,215.45 L93.09,216.40 L93.42,217.34 L93.74,218.29 L94.07,219.23 L94.40,220.18 L94.72,221.12 L95.05,222.07 L95.37,223.02 L95.70,223.96 L96.03,224.91 L96.35,225.85 L96.67,226.80 L97.00,227.75 L97.32,228.69 L97.65,229.64 L97.97,230.59 L98.29,231.53 L98.62,232.48 L98.94,233.43 L99.26,234.37 L99.58,235.32 L99.91,236.27 L100.23,237.22 L100.55,238.16 L100.87,239.11 L101.19,240.06 L101.51,241.01 L101.83,241.95 L102.15,242.90 L102.47,243.85 L102.79,244.80 L103.11,245.75 L103.43,246.69 L103.75,247.64 L104.07,248.59 L104.39,249.54 L104.71,250.49 L105.03,251.43 L105.35,252.38 L105.66,253.33 L105.98,254.28 L106.30,255.23 L106.62,256.18 L106.93,257.13 L107.25,258.08 L107.57,259.02 L107.89,259.97 L108.20,260.92 L108.52,261.87 L108.83,262.82 L109.15,263.77 L109.47,264.72 L109.78,265.67 L110.10,266.62 L110.41,267.57 L110.73,268.52 L111.04,269.47 L111.36,270.42 L111.67,271.37 L111.99,272.32 L112.30,273.27 L112.62,274.21 L112.93,275.16 L113.25,276.11 L113.56,277.06 L113.87,278.01 L114.19,278.96 L114.50,279.91 L114.81,280.86 L115.13,281.81 L115.44,282.76 L115.76,283.71 L116.07,284.66 L116.38,285.62 L116.69,286.57 L117.01,287.52 L117.32,288.47 L117.63,289.42 L117.95,290.37 L118.26,291.32 L118.57,292.27 L118.88,293.22 L119.20,294.17 L119.51,295.12 L119.82,296.07 L120.13,297.02 L120.45,297.97 L120.76,298.92 L121.07,299.87 L121.38,300.82 L121.69,301.77 L122.01,302.72 L122.32,303.67 L122.63,304.62 L122.94,305.57 L123.25,306.53 L123.56,307.48 L123.88,308.43 L124.19,309.38 L124.50,310.33 L124.81,311.28 L125.12,312.23 L125.43,313.18 L125.75,314.13 L126.06,315.08 L126.37,316.03 L126.68,316.98 L126.99,317.93 L127.30,318.88 L127.62,319.83 L127.93,320.79 L128.24,321.74 L128.55,322.69 L128.86,323.64 L129.18,324.59 L129.49,325.54 L129.80,326.49 L130.11,327.44 L130.42,328.39 L130.74,329.34 L131.05,330.29 L131.36,331.24 L131.67,332.19 L131.98,333.14 L132.30,334.09 L132.61,335.04 L132.92,335.99 L133.23,336.94 L133.55,337.90 L133.86,338.85 L134.17,339.80 L134.48,340.75 L134.80,341.70 L135.11,342.65 L135.42,343.60 L135.74,344.55 L136.05,345.50 L136.36,346.45 L136.68,347.40 L136.99,348.35 L137.30,349.30 L137.62,350.25 L137.93,351.20 L138.25,352.15 L138.56,353.10 L138.87,354.05 L139.19,355.00 L139.50,355.95 L139.82,356.90 L140.13,357.85 L140.45,358.80 L140.76,359.75 L141.08,360.69 L141.39,361.64 L141.71,362.59 L142.02,363.54 L142.34,364.49 L142.65,365.44 L142.97,366.39 L143.29,367.34 L143.60,368.29 L143.92,369.24 L144.24,370.19 L144.55,371.14 L144.87,372.09 L145.19,373.03 L145.51,373.98 L145.82,374.93 L146.14,375.88 L146.46,376.83 L146.78,377.78 L147.10,378.73 L147.42,379.67 L147.73,380.62 L148.05,381.57 L148.37,382.52 L148.69,383.47 L149.01,384.41 L149.33,385.36 L149.66,386.31 L149.98,387.26 L150.30,388.20 L150.62,389.15 L150.95,390.10 L151.27,391.04 L151.60,391.99 L151.93,392.93 L152.26,393.88 L152.58,394.82 L152.92,395.77 L153.25,396.71 L153.58,397.65 L153.91,398.60 L154.25,399.54 L154.59,400.48 L154.93,401.42 L155.27,402.36 L155.61,403.30 L155.95,404.24 L156.30,405.18 L156.65,406.12 L157.00,407.06 L157.35,407.99 L157.70,408.93 L158.06,409.86 L158.42,410.80 L158.78,411.73 L159.14,412.66 L159.51,413.60 L159.87,414.53 L160.24,415.46 L160.61,416.39 L160.99,417.31 L161.37,418.24 L161.75,419.16 L162.13,420.09 L162.52,421.01 L162.90,421.93 L163.30,422.85 L163.69,423.77 L164.09,424.69 L164.49,425.61 L164.89,426.52 L165.30,427.44 L165.71,428.35 L166.12,429.26 L166.54,430.17 L166.96,431.08 L167.38,431.99 L167.81,432.89 L168.24,433.79 L168.67,434.70 L169.11,435.60 L169.55,436.49 L170.00,437.39 L170.44,438.28 L170.90,439.18 L171.35,440.07 L171.81,440.96 L172.28,441.84 L172.74,442.73 L173.22,443.61 L173.69,444.49 L174.18,445.37 L174.66,446.24 L175.15,447.11 L175.65,447.98 L176.15,448.85 L176.66,449.71 L177.17,450.57 L177.69,451.42 L178.21,452.27 L178.74,453.12 L179.28,453.97 L179.82,454.81 L180.37,455.64 L180.93,456.47 L181.49,457.30 L182.07,458.12 L182.64,458.94 L183.23,459.75 L183.82,460.56 L184.42,461.36 L185.03,462.15 L185.65,462.94 L186.27,463.72 L186.90,464.49 L187.55,465.26 L188.19,466.02 L188.85,466.78 L189.52,467.52 L190.19,468.26 L190.88,468.99 L191.57,469.71 L192.27,470.43 L192.98,471.13 L193.70,471.83 L194.43,472.51 L195.17,473.19 L195.92,473.85 L196.68,474.50 L197.45,475.14 L198.23,475.77 L199.02,476.38 L199.82,476.98 L200.63,477.57 L201.45,478.14 L202.28,478.70 L203.12,479.24 L203.98,479.76 L204.84,480.26 L205.72,480.75 L206.60,481.21 L207.50,481.65 L208.41,482.08 L209.32,482.47 L210.25,482.85 L211.19,483.20 L212.13,483.53 L213.09,483.82 L214.05,484.10 L215.02,484.34 L216.00,484.55 L216.98,484.73 L217.97,484.89 L218.97,485.01 L219.96,485.10 L220.96,485.16 L221.96,485.18 L222.96,485.18 L223.96,485.15 L224.96,485.10 L225.96,485.01 L226.95,484.91 L227.94,484.77 L228.93,484.62 L229.92,484.44 L230.90,484.24 L231.87,484.02 L232.84,483.78 L233.81,483.52 L234.77,483.25 L235.73,482.95 L236.68,482.64 L237.62,482.31 L238.56,481.97 L239.50,481.61 L240.42,481.23 L241.35,480.84 L242.26,480.44 L243.17,480.02 L244.07,479.59 L244.97,479.14 L245.86,478.69 L246.74,478.22 L247.62,477.73 L248.49,477.24 L249.35,476.73 L250.20,476.21 L251.05,475.68 L251.89,475.14 L252.73,474.58 L253.55,474.02 L254.37,473.44 L255.18,472.86 L255.98,472.26 L256.78,471.65 L257.56,471.03 L258.34,470.41 L259.11,469.77 L259.88,469.12 L260.64,468.47 L261.38,467.80 L262.12,467.13 L262.86,466.45 L263.58,465.76 L264.30,465.07 L265.02,464.36 L265.72,463.65 L266.42,462.94 L267.11,462.21 L267.79,461.48 L268.47,460.75 L269.14,460.01 L269.81,459.26 L270.47,458.51 L271.12,457.75 L271.77,456.99 L272.41,456.22 L273.05,455.45 L273.68,454.68 L274.31,453.90 L274.93,453.12 L275.55,452.33 L276.17,451.54 L276.78,450.75 L277.39,449.95 L277.99,449.16 L278.59,448.36 L279.19,447.55 L279.78,446.75 L280.38,445.94 L280.97,445.13 L281.55,444.32 L282.14,443.51 L282.72,442.70 L283.30,441.88 L283.88,441.07 L284.45,440.25 L285.03,439.43 L285.60,438.61 L286.17,437.78 L286.73,436.96 L287.29,436.13 L287.86,435.30 L288.42,434.47 L288.97,433.64 L289.53,432.81 L290.08,431.98 L290.63,431.14 L291.18,430.30 L291.72,429.46 L292.27,428.63 L292.81,427.78 L293.35,426.94 L293.89,426.10 L294.42,425.25 L294.96,424.41 L295.49,423.56 L296.02,422.71 L296.55,421.86 L297.08,421.01 L297.60,420.16 L298.13,419.31 L298.65,418.46 L299.17,417.60 L299.69,416.75 L300.20,415.89 L300.72,415.03 L301.23,414.17 L301.74,413.31 L302.25,412.45 L302.76,411.59 L303.27,410.73 L303.78,409.87 L304.28,409.00 L304.78,408.14 L305.28,407.27 L305.79,406.40 L306.28,405.54 L306.78,404.67 L307.28,403.80 L307.77,402.93 L308.27,402.06 L308.76,401.19 L309.25,400.32 L309.74,399.45 L310.23,398.57 L310.72,397.70 L311.21,396.83 L311.69,395.95 L312.18,395.08 L312.66,394.20 L313.14,393.33 L313.63,392.45 L314.11,391.57 L314.59,390.69 L315.07,389.82 L315.55,388.94 L316.02,388.06 L316.50,387.18 L316.98,386.30 L317.45,385.42 L317.93,384.54 L318.40,383.66 L318.88,382.78 L319.35,381.89 L319.82,381.01 L320.29,380.13 L320.76,379.25 L321.23,378.37 L321.71,377.48 L322.18,376.60 L322.64,375.72 L323.11,374.83 L323.58,373.95 L324.05,373.06 L324.52,372.18 L324.99,371.30 L325.45,370.41 L325.92,369.53 L326.39,368.64 L326.86,367.76 L327.32,366.87 L327.79,365.99 L328.26,365.10 L328.72,364.22 L329.19,363.33 L329.65,362.45 L330.12,361.56 L330.59,360.68 L331.05,359.79 L331.52,358.91 L331.99,358.02 L332.45,357.14 L332.92,356.25 L333.39,355.37 L333.85,354.48 L334.32,353.60 L334.79,352.71 L335.26,351.83 L335.72,350.94 L336.19,350.06 L336.66,349.18 L337.13,348.29 L337.60,347.41 L338.07,346.53 L338.54,345.64 L339.01,344.76 L339.48,343.88 L339.96,343.00 L340.43,342.11 L340.90,341.23 L341.38,340.35 L341.85,339.47 L342.33,338.59 L342.80,337.71 L343.28,336.83 L343.76,335.95 L344.23,335.07 L344.71,334.19 L345.19,333.32 L345.67,332.44 L346.16,331.56 L346.64,330.69 L347.12,329.81 L347.61,328.93 L348.09,328.06 L348.58,327.18 L349.06,326.31 L349.55,325.44 L350.04,324.57 L350.53,323.69 L351.02,322.82 L351.52,321.95 L352.01,321.08 L352.50,320.21 L353.00,319.34 L353.50,318.47 L354.00,317.61 L354.50,316.74 L355.00,315.88 L355.50,315.01 L356.01,314.15 L356.51,313.28 L357.02,312.42 L357.53,311.56 L358.04,310.70 L358.55,309.84 L359.06,308.98 L359.58,308.12 L360.09,307.26 L360.61,306.41 L361.13,305.55 L361.65,304.70 L362.17,303.85 L362.70,303.00 L363.23,302.14 L363.75,301.29 L364.28,300.45 L364.82,299.60 L365.35,298.75 L365.89,297.91 L366.42,297.06 L366.96,296.22 L367.50,295.38 L368.04,294.54 L368.59,293.70 L369.14,292.86 L369.68,292.02 L370.23,291.19 L370.78,290.35 L371.34,289.52 L371.89,288.69 L372.45,287.85 L373.00,287.02 L373.56,286.19 L374.12,285.36 L374.69,284.54 L375.25,283.71 L375.81,282.88 L376.38,282.06 L376.95,281.24 L377.52,280.41 L378.09,279.59 L378.66,278.77 L379.24,277.95 L379.81,277.13 L380.39,276.32 L380.96,275.50 L381.54,274.68 L382.12,273.87 L382.71,273.05 L383.29,272.24 L383.87,271.43 L384.46,270.62 L385.05,269.81 L385.63,269.00 L386.22,268.19 L386.81,267.38 L387.40,266.57 L388.00,265.77 L388.59,264.96 L389.18,264.16 L389.78,263.35 L390.38,262.55 L390.97,261.75 L391.57,260.95 L392.17,260.15 L392.77,259.35 L393.38,258.55 L393.98,257.75 L394.58,256.95 L395.19,256.15 L395.79,255.36 L396.40,254.56 L397.01,253.77 L397.61,252.97 L398.22,252.18 L398.83,251.39 L399.44,250.59 L400.06,249.80 L400.67,249.01 L401.28,248.22 L401.89,247.43 L402.51,246.64 L403.12,245.85 L403.74,245.06 L404.36,244.27 L404.97,243.49 L405.59,242.70 L406.21,241.91 L406.83,241.13 L407.45,240.34 L408.07,239.56 L408.69,238.77 L409.31,237.99 L409.93,237.21 L410.55,236.42 L411.18,235.64 L411.80,234.86 L412.43,234.07 L413.05,233.29 L413.67,232.51 L414.30,231.73 L414.93,230.95 L415.55,230.17 L416.18,229.39 L416.80,228.61 L417.43,227.83 L418.06,227.05 L418.69,226.27 L419.31,225.49 L419.94,224.71 L420.57,223.94 L421.20,223.16 L421.83,222.38 L422.46,221.60 L423.09,220.83 L423.72,220.05 L424.35,219.27 L424.98,218.50 L425.62,217.72 L426.25,216.95 L426.89,216.18 L427.53,215.41 L428.17,214.64 L428.81,213.87 L429.45,213.10 L430.09,212.34 L430.74,211.57 L431.39,210.81 L432.04,210.05 L432.69,209.29 L433.34,208.53 L434.00,207.78 L434.66,207.03 L435.32,206.28 L435.99,205.53 L436.66,204.79 L437.33,204.04 L438.00,203.30 L438.68,202.57 L439.36,201.84 L440.04,201.11 L440.73,200.38 L441.42,199.66 L442.12,198.94 L442.82,198.22 L443.52,197.51 L444.23,196.80 L444.94,196.10 L445.66,195.40 L446.38,194.71 L447.10,194.02 L447.83,193.33 L448.56,192.65 L449.30,191.98 L450.05,191.31 L450.79,190.64 L451.55,189.98 L452.30,189.33 L453.06,188.68 L453.83,188.03 L454.60,187.40 L455.37,186.76 L456.15,186.13 L456.93,185.50 L457.71,184.88 L458.50,184.26 L459.29,183.65 L460.08,183.04 L460.88,182.43 L461.67,181.82 L462.47,181.22 L463.27,180.62 L464.07,180.03 L464.88,179.43 L465.69,178.84 L466.49,178.25 L467.30,177.66 L468.11,177.07 L468.92,176.48 L469.73,175.90 L470.54,175.31 L471.36,174.73 L472.17,174.14 L472.98,173.56 L473.79,172.98 L474.61,172.39 L475.42,171.81 L476.23,171.22 L477.04,170.64 L477.85,170.05 L478.66,169.46 L479.47,168.87 L480.28,168.28 L481.08,167.69 L481.89,167.10 L482.69,166.50 L483.49,165.90 L484.29,165.30 L485.09,164.70 L485.89,164.10 L486.69,163.50 L487.49,162.89 L488.29,162.29 L489.08,161.68 L489.88,161.08 L490.68,160.47 L491.47,159.87 L492.27,159.26 L493.07,158.66 L493.86,158.06 L494.66,157.45 L495.46,156.85 L496.26,156.25 L497.06,155.65 L497.86,155.05 L498.66,154.45 L499.47,153.85 L500.27,153.25 L501.07,152.66 L501.88,152.07 L502.69,151.48 L503.50,150.89 L504.31,150.31 L505.13,149.73 L505.94,149.15 L506.76,148.57 L507.58,148.00 L508.40,147.43 L509.23,146.86 L510.05,146.30 L510.88,145.74 L511.72,145.19 L512.55,144.64 L513.39,144.09 L514.23,143.55 L515.08,143.01 L515.92,142.48 L516.77,141.95 L517.63,141.43 L518.48,140.91 L519.34,140.40 L520.21,139.90 L521.08,139.40 L521.95,138.91 L522.82,138.42 L523.70,137.95 L524.58,137.47 L525.47,137.01 L526.36,136.55 L527.25,136.10 L528.15,135.66 L529.05,135.23 L529.96,134.80 L530.87,134.38 L531.78,133.97 L532.69,133.57 L533.61,133.18 L534.54,132.79 L535.47,132.42 L536.40,132.05 L537.33,131.69 L538.27,131.34 L539.21,131.00 L540.15,130.67 L541.10,130.35 L542.05,130.04 L543.00,129.74 L543.96,129.44 L544.92,129.16 L545.88,128.88 L546.85,128.62 L547.81,128.37 L548.79,128.12 L549.76,127.89 L550.73,127.66 L551.71,127.45 L552.69,127.25 L553.67,127.06 L554.66,126.87 L555.64,126.70 L556.63,126.54 L557.62,126.40 L558.61,126.26 L559.60,126.14 L560.60,126.02 L561.59,125.92 L562.59,125.83 L563.59,125.75 L564.58,125.69 L565.58,125.63 L566.58,125.59 L567.58,125.57 L568.58,125.55 L569.58,125.55 L570.58,125.56 L571.58,125.58 L572.58,125.62 L573.58,125.67 L574.58,125.73 L575.58,125.81 L576.58,125.90 L577.57,126.00 L578.57,126.11 L579.56,126.24 L580.55,126.37 L581.54,126.52 L582.53,126.68 L583.51,126.86 L584.49,127.04 L585.48,127.23 L586.46,127.44 L587.43,127.65 L588.41,127.88 L589.38,128.11 L590.35,128.36 L591.32,128.61 L592.28,128.87 L593.25,129.15 L594.21,129.43 L595.16,129.72 L596.12,130.01 L597.07,130.32 L598.02,130.64 L598.97,130.96 L599.91,131.29 L600.85,131.63 L601.79,131.98 L602.73,132.33 L603.66,132.69 L604.59,133.06 L605.52,133.43 L606.44,133.81 L607.37,134.20 L608.29,134.59 L609.20,134.99 L610.12,135.40 L611.03,135.81 L611.94,136.23 L612.84,136.66 L613.75,137.09 L614.65,137.52 L615.55,137.96 L616.44,138.41 L617.33,138.86 L618.22,139.31 L619.11,139.78 L620.00,140.24 L620.88,140.71 L621.76,141.19 L622.64,141.67 L623.51,142.16 L624.38,142.65 L625.25,143.14 L626.12,143.64 L626.98,144.15 L627.84,144.66 L628.70,145.17 L629.56,145.69 L630.41,146.21 L631.26,146.73 L632.11,147.26 L632.96,147.80 L633.80,148.33 L634.65,148.87 L635.49,149.42 L636.32,149.97 L637.16,150.52 L637.99,151.07 L638.82,151.63 L639.65,152.19 L640.47,152.76 L641.30,153.32 L642.12,153.90 L642.94,154.47 L643.76,155.05 L644.57,155.62 L645.39,156.21 L646.20,156.79 L647.01,157.38 L647.82,157.97 L648.62,158.56 L649.43,159.16 L650.23,159.75 L651.03,160.35 L651.83,160.95 L652.63,161.56 L653.43,162.16 L654.22,162.77 L655.01,163.38 L655.81,163.99 L656.60,164.60 L657.39,165.22 L658.18,165.83 L658.96,166.45 L659.75,167.07 L660.53,167.69 L661.32,168.31 L662.10,168.93 L662.88,169.56 L663.66,170.18 L664.44,170.81 L665.22,171.44 L666.00,172.07 L666.78,172.70 L667.56,173.33 L668.33,173.96 L669.11,174.59 L669.88,175.22 L670.66,175.85 L671.43,176.49 L672.21,177.12 L672.98,177.76 L673.75,178.39 L674.53,179.03 L675.30,179.66 L676.07,180.30 L676.84,180.93 L677.62,181.57 L678.39,182.20 L679.16,182.84 L679.93,183.48 L680.71,184.11 L681.48,184.75 L682.25,185.38 L683.02,186.02 L683.80,186.66 L684.57,187.29 L685.34,187.93 L686.12,188.56 L686.89,189.19 L687.66,189.83 L688.44,190.46 L689.21,191.09 L689.99,191.73 L690.76,192.36 L691.54,192.99 L692.32,193.62 L693.10,194.25 L693.87,194.88 L694.65,195.50 L695.43,196.13 L696.21,196.76 L696.99,197.38 L697.78,198.01 L698.56,198.63 L699.34,199.25 L700.13,199.87 L700.91,200.49 L701.70,201.11 L702.49,201.73 L703.27,202.34 L704.06,202.96 L704.85,203.57 L705.65,204.18 L706.44,204.79 L707.23,205.40 L708.03,206.01 L708.82,206.61 L709.62,207.22 L710.42,207.82 L711.22,208.42 L712.02,209.02 L712.83,209.61 L713.63,210.21 L714.44,210.80 L715.25,211.39 L716.06,211.98 L716.87,212.57 L717.68,213.15 L718.49,213.73 L719.31,214.31 L720.13,214.89 L720.94,215.46 L721.77,216.03 L722.59,216.60 L723.41,217.17 L724.24,217.74 L725.07,218.30 L725.90,218.86 L726.73,219.41 L727.56,219.96 L728.40,220.52 L729.23,221.06 L730.07,221.61 L730.91,222.15 L731.76,222.69 L732.60,223.22 L733.45,223.75 L734.30,224.28 L735.15,224.81 L736.01,225.33 L736.86,225.85 L737.72,226.36 L738.58,226.87 L739.44,227.38 L740.31,227.88 L741.17,228.38 L742.04,228.88 L742.91,229.37 L743.79,229.86 L744.66,230.35 L745.54,230.83 L746.42,231.30 L747.30,231.77 L748.19,232.24 L749.07,232.71 L749.96,233.16 L750.85,233.62 L751.74,234.07 L752.64,234.52 L753.54,234.96 L754.44,235.40 L755.34,235.83 L756.24,236.27 L757.14,236.69 L758.05,237.12 L758.96,237.54 L759.87,237.96 L760.78,238.37 L761.69,238.79 L762.60,239.20 L763.51,239.60 L764.43,240.01 L765.35,240.41 L766.26,240.81 L767.18,241.20 L768.10,241.60 L769.02,241.99 L769.94,242.38 L770.87,242.77 L771.79,243.15 L772.71,243.54 L773.64,243.92 L774.56,244.30 L775.49,244.68 L776.41,245.06 L777.34,245.44 L778.27,245.81 L779.19,246.19 L780.12,246.56 L781.05,246.94 L781.98,247.31 L782.91,247.68 L783.84,248.05 L784.77,248.42 L785.70,248.79 L786.63,249.15 L787.56,249.51 L788.50,249.87 L789.43,250.23 L790.36,250.59 L791.30,250.94 L792.24,251.29 L793.18,251.64 L794.12,251.98 L795.06,252.32 L796.00,252.66 L796.94,253.00 L797.88,253.33 L798.83,253.66 L799.78,253.98 L800.72,254.30 L801.67,254.62 L802.62,254.94 L803.57,255.25 L804.52,255.56 L805.48,255.86 L806.43,256.16 L807.39,256.46 L808.34,256.75 L809.30,257.04 L810.26,257.32 L811.22,257.60 L812.18,257.87 L813.15,258.14 L814.11,258.41 L815.08,258.67 L816.04,258.93 L817.01,259.18 L817.98,259.43 L818.95,259.67 L819.92,259.91 L820.90,260.15 L821.87,260.38 L822.84,260.61 L823.82,260.84 L824.79,261.06 L825.77,261.29 L826.74,261.51 L827.72,261.72 L828.70,261.94 L829.67,262.15 L830.65,262.36 L831.63,262.57 L832.61,262.77 L833.59,262.98 L834.57,263.18 L835.55,263.38 L836.53,263.59 L837.51,263.79 L838.49,263.99 L839.47,264.19 L840.45,264.39 L841.43,264.58 L842.41,264.78 L843.39,264.98 L844.37,265.18 L845.35,265.38 L846.33,265.58 L847.31,265.78 L848.29,265.98 L849.27,266.19 L850.25,266.39 L851.23,266.60 L852.21,266.80 L853.19,267.01 L854.17,267.22 L855.14,267.44 L856.12,267.65 L857.10,267.87 L858.07,268.09 L859.05,268.31 L860.02,268.54 L861.00,268.76 L861.97,268.99 L862.94,269.23 L863.92,269.46 L864.89,269.70 L865.86,269.94 L866.83,270.18 L867.80,270.42 L868.77,270.66 L869.74,270.91 L870.71,271.16 L871.68,271.40 L872.65,271.65 L873.62,271.90 L874.59,272.16 L875.56,272.41 L876.52,272.66 L877.49,272.91 L878.46,273.17 L879.43,273.42 L880.39,273.67 L881.36,273.93 L882.33,274.18 L883.30,274.43 L884.27,274.69 L885.23,274.94 L886.20,275.19 L887.17,275.44 L888.14,275.69 L889.11,275.94 L890.08,276.19 L891.05,276.44 L892.02,276.68 L892.99,276.93 L893.96,277.17 L894.93,277.41 L895.90,277.65 L896.87,277.89 L897.85,278.12 L898.82,278.35 L899.79,278.58 L900.77,278.81 L901.74,279.04 L902.72,279.26 L903.69,279.48 L904.67,279.70 L905.65,279.91 L906.62,280.12 L907.60,280.33 L908.58,280.53 L909.56,280.73 L910.54,280.93 L911.53,281.12 L912.51,281.31 L913.49,281.49 L914.48,281.67 L915.46,281.85 L916.45,282.02 L917.43,282.19 L918.42,282.35 L919.41,282.51 L920.40,282.66 L921.39,282.81 L922.38,282.95 L923.37,283.09 L924.36,283.22 L925.35,283.35 L926.34,283.47" fill="none" stroke="#0000ff" stroke-width="1"/></g></svg>
<svg width="0" height="0" style="position:absolute"><filter id="crisp" x="0" y="0" width="100%" height="100%"><feComponentTransfer><feFuncA type="discrete" tableValues="0 1"/></feComponentTransfer></filter></svg>
<div class="lab">
<div class="xt" style="left:8px">230</div><div class="xt" style="left:103px">240</div><div class="xt" style="left:199px">250</div><div class="xt" style="left:295px">260</div><div class="xt" style="left:390px">270</div><div class="xt" style="left:486px">280</div><div class="xt" style="left:582px">290</div><div class="xt" style="left:677px">300</div><div class="xt" style="left:773px">310</div><div class="xt" style="left:868px">320</div>
<div class="yt" style="top:2px">2</div><div class="yt" style="top:139px">1</div><div class="yt" style="top:275px">0</div><div class="yt" style="top:412px"><span style="position:relative;left:1px">-</span>1</div><div class="yt" style="top:548px"><span style="position:relative;left:1px">-</span>2</div>
<div class="xl"><span style="left:386px">W</span><span style="left:413px">a</span><span style="left:430px">v</span><span style="left:445px">e</span><span style="left:461px">l</span><span style="left:470px">e</span><span style="left:486px">n</span><span style="left:504px">g</span><span style="left:519px">t</span><span style="left:528px">h</span><span style="left:545px"> </span><span style="left:553px">[</span><span style="left:562px">n</span><span style="left:578px">m</span><span style="left:603px">]</span></div>
<div class="yl">CD[mdeg]</div>
</div>
<svg width="954" height="643" style="position:absolute;left:0;top:0" shape-rendering="crispEdges"><g fill="#fff"><rect x="50" y="161" width="5" height="2"/><rect x="57" y="161" width="4" height="2"/><rect x="50" y="434" width="5" height="2"/><rect x="57" y="434" width="4" height="2"/><rect x="828" y="596" width="4" height="2"/><rect x="835" y="596" width="4" height="2"/><rect x="832" y="585" width="1" height="11"/></g></svg>
</body></html>
